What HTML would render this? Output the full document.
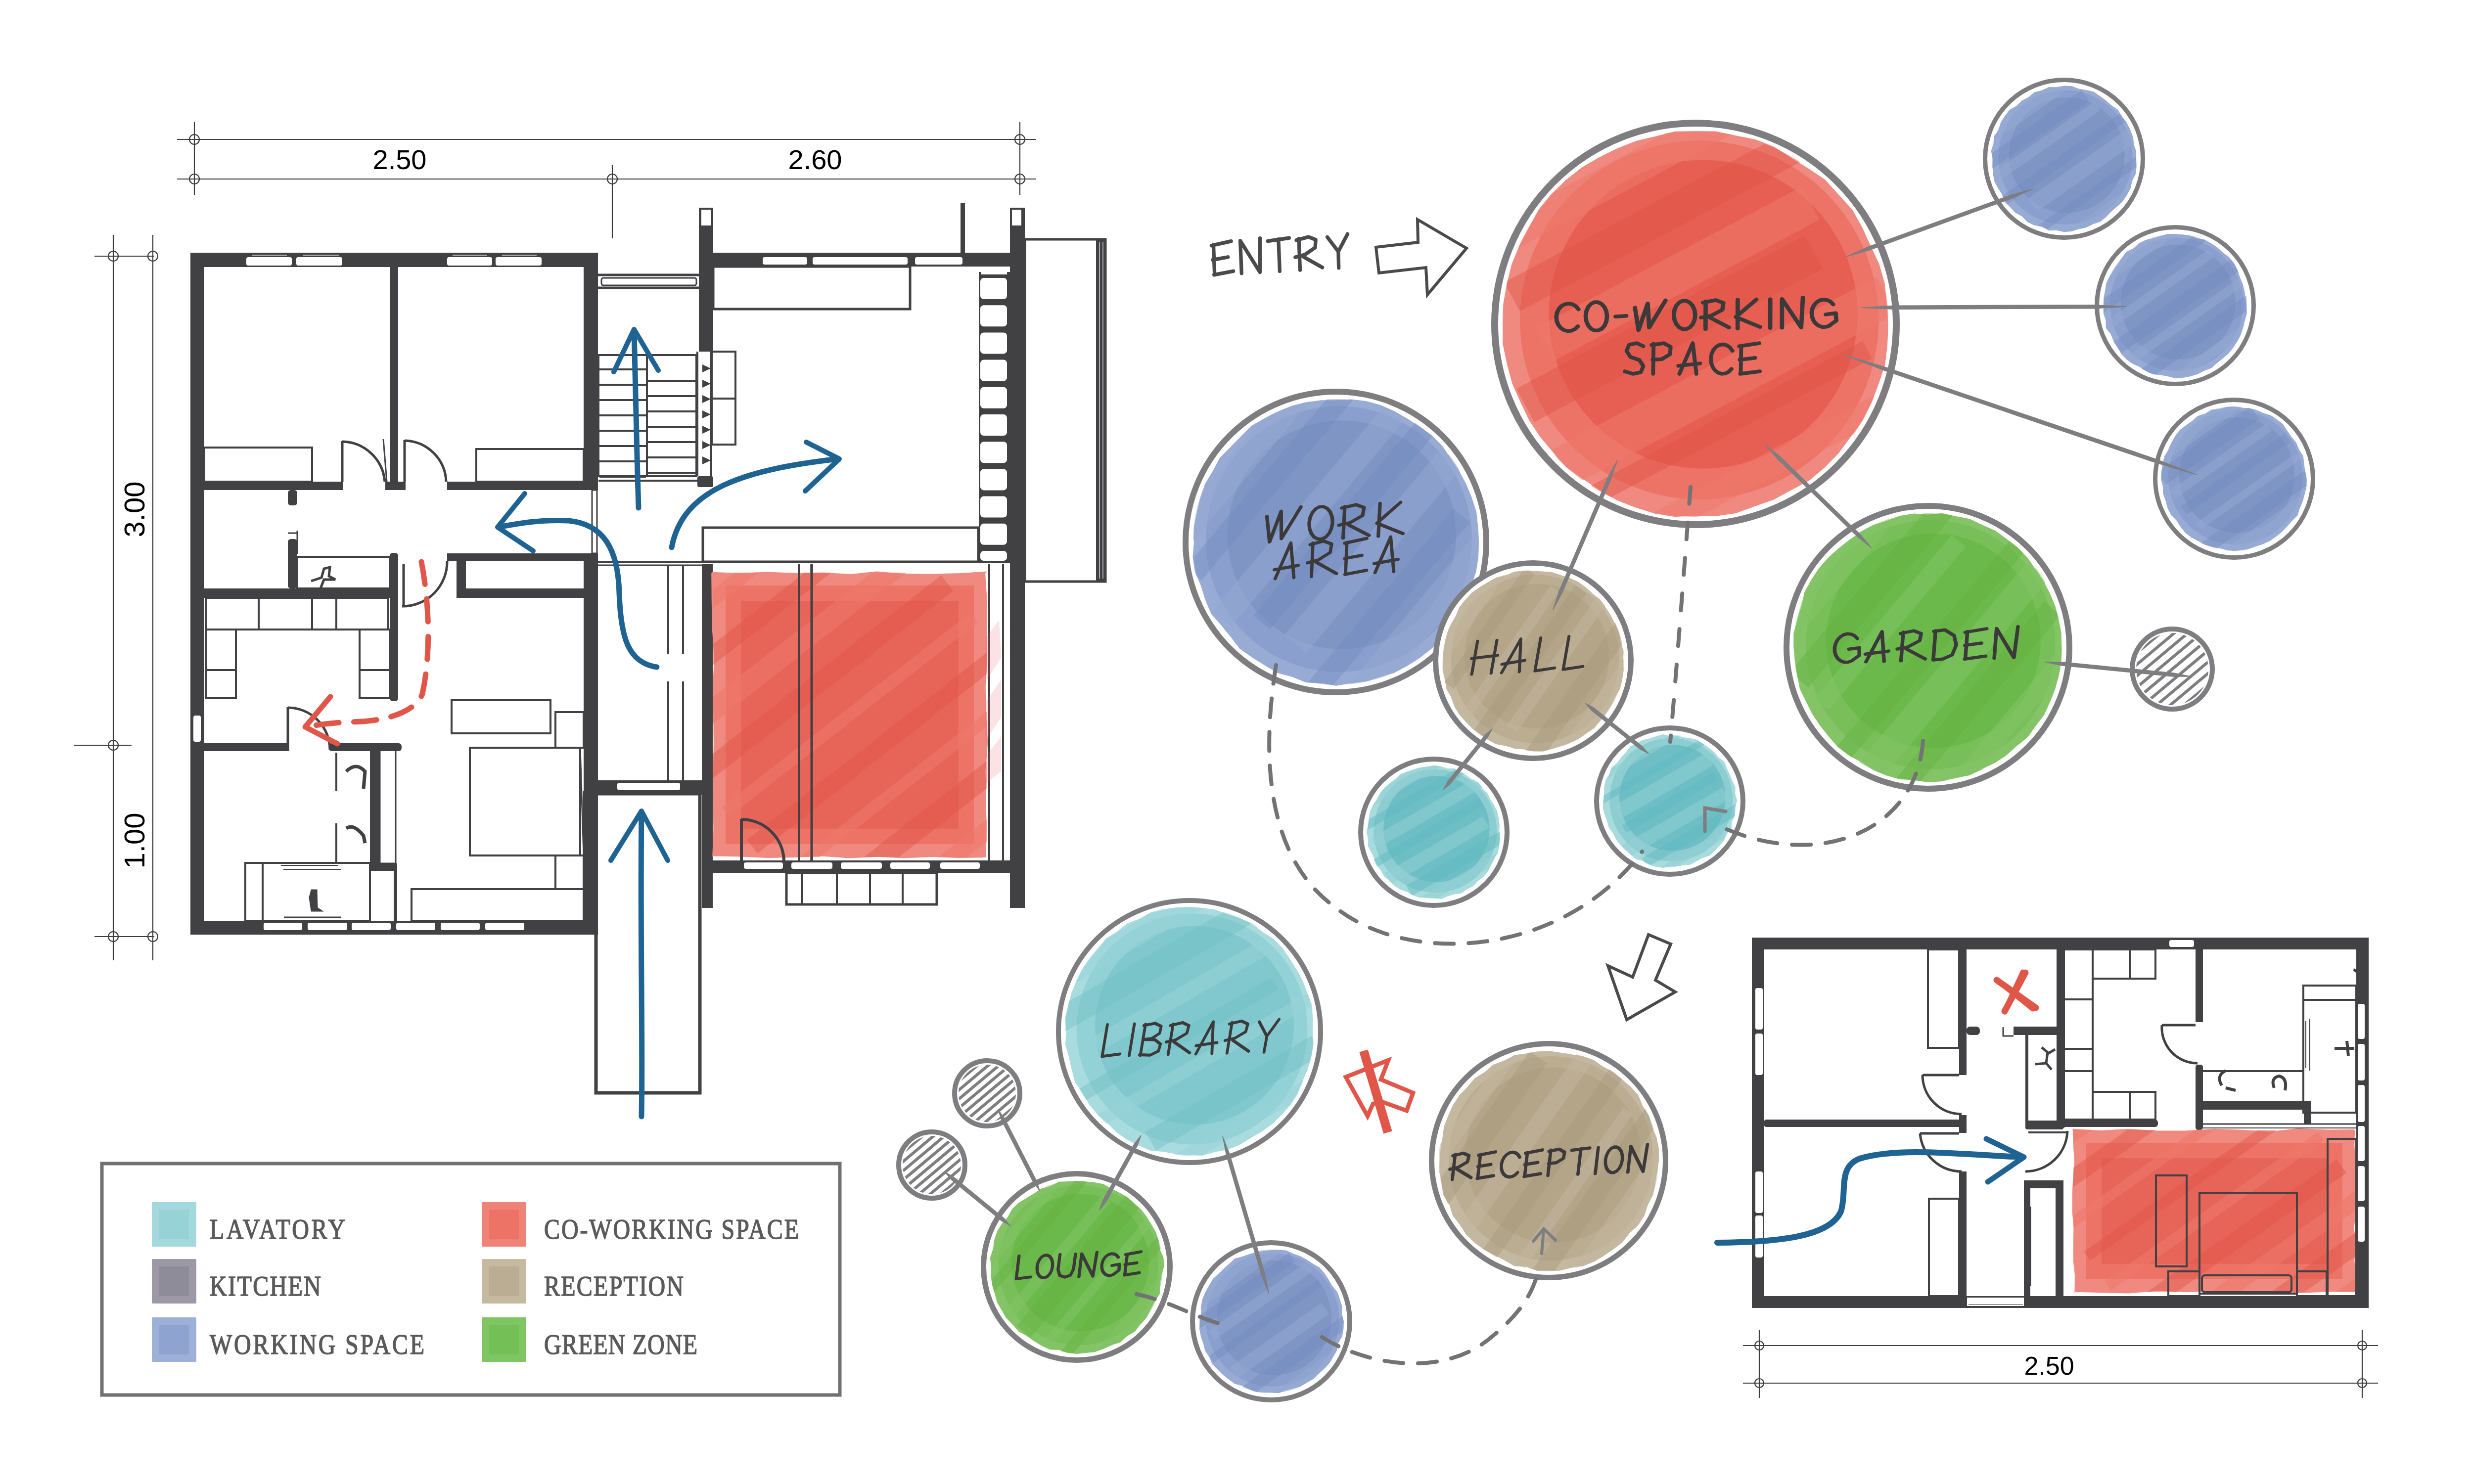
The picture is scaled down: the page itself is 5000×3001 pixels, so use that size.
<!DOCTYPE html><html><head><meta charset="utf-8"><style>html,body{margin:0;padding:0;background:#fff}svg{display:block}</style></head><body><svg width="5000" height="3001" viewBox="0 0 5000 3001"><line x1="358.0" y1="282.0" x2="2095.0" y2="282.0" stroke="#3c3c3c" stroke-width="2.2" /><line x1="358.0" y1="362.0" x2="2095.0" y2="362.0" stroke="#3c3c3c" stroke-width="2.2" /><line x1="393.0" y1="247.0" x2="393.0" y2="394.0" stroke="#3c3c3c" stroke-width="2.2" /><line x1="1238.0" y1="334.0" x2="1238.0" y2="482.0" stroke="#3c3c3c" stroke-width="2.2" /><line x1="2062.0" y1="247.0" x2="2062.0" y2="394.0" stroke="#3c3c3c" stroke-width="2.2" /><circle cx="393" cy="282" r="10" fill="none" stroke="#3c3c3c" stroke-width="2.2"/><circle cx="393" cy="362" r="10" fill="none" stroke="#3c3c3c" stroke-width="2.2"/><circle cx="1238" cy="362" r="10" fill="none" stroke="#3c3c3c" stroke-width="2.2"/><circle cx="2062" cy="282" r="10" fill="none" stroke="#3c3c3c" stroke-width="2.2"/><circle cx="2062" cy="362" r="10" fill="none" stroke="#3c3c3c" stroke-width="2.2"/><text x="808" y="342" font-family="Liberation Sans" font-size="56" text-anchor="middle" fill="#000">2.50</text><text x="1648" y="342" font-family="Liberation Sans" font-size="56" text-anchor="middle" fill="#000">2.60</text><line x1="229.0" y1="475.0" x2="229.0" y2="1942.0" stroke="#3c3c3c" stroke-width="2.2" /><line x1="309.0" y1="475.0" x2="309.0" y2="1942.0" stroke="#3c3c3c" stroke-width="2.2" /><line x1="191.0" y1="518.0" x2="312.0" y2="518.0" stroke="#3c3c3c" stroke-width="2.2" /><line x1="150.0" y1="1507.0" x2="266.0" y2="1507.0" stroke="#3c3c3c" stroke-width="2.2" /><line x1="191.0" y1="1894.0" x2="312.0" y2="1894.0" stroke="#3c3c3c" stroke-width="2.2" /><circle cx="229" cy="518" r="10" fill="none" stroke="#3c3c3c" stroke-width="2.2"/><circle cx="309" cy="518" r="10" fill="none" stroke="#3c3c3c" stroke-width="2.2"/><circle cx="229" cy="1507" r="10" fill="none" stroke="#3c3c3c" stroke-width="2.2"/><circle cx="229" cy="1894" r="10" fill="none" stroke="#3c3c3c" stroke-width="2.2"/><circle cx="309" cy="1894" r="10" fill="none" stroke="#3c3c3c" stroke-width="2.2"/><text transform="translate(292,1030) rotate(-90)" font-family="Liberation Sans" font-size="58" text-anchor="middle" fill="#000">3.00</text><text transform="translate(292,1700) rotate(-90)" font-family="Liberation Sans" font-size="58" text-anchor="middle" fill="#000">1.00</text><line x1="3524.0" y1="2721.0" x2="4808.0" y2="2721.0" stroke="#3c3c3c" stroke-width="2.2" /><line x1="3524.0" y1="2797.0" x2="4808.0" y2="2797.0" stroke="#3c3c3c" stroke-width="2.2" /><line x1="3557.0" y1="2689.0" x2="3557.0" y2="2827.0" stroke="#3c3c3c" stroke-width="2.2" /><line x1="4776.0" y1="2689.0" x2="4776.0" y2="2827.0" stroke="#3c3c3c" stroke-width="2.2" /><circle cx="3557" cy="2721" r="9" fill="none" stroke="#3c3c3c" stroke-width="2.2"/><circle cx="3557" cy="2797" r="9" fill="none" stroke="#3c3c3c" stroke-width="2.2"/><circle cx="4776" cy="2721" r="9" fill="none" stroke="#3c3c3c" stroke-width="2.2"/><circle cx="4776" cy="2797" r="9" fill="none" stroke="#3c3c3c" stroke-width="2.2"/><text x="4143" y="2780" font-family="Liberation Sans" font-size="52" text-anchor="middle" fill="#000">2.50</text><rect x="385.0" y="511.0" width="824.0" height="29.0" fill="#414042" /><rect x="385.0" y="511.0" width="28.0" height="1379.0" fill="#414042" /><rect x="1180.0" y="511.0" width="29.0" height="480.0" fill="#414042" /><rect x="1180.0" y="1119.0" width="29.0" height="771.0" fill="#414042" /><rect x="385.0" y="1862.0" width="824.0" height="28.0" fill="#414042" /><rect x="498.0" y="520.0" width="92.0" height="17.0" fill="#ffffff" rx="4" /><rect x="599.0" y="520.0" width="93.0" height="17.0" fill="#ffffff" rx="4" /><rect x="904.0" y="520.0" width="91.0" height="17.0" fill="#ffffff" rx="4" /><rect x="1002.0" y="520.0" width="93.0" height="17.0" fill="#ffffff" rx="4" /><line x1="510.0" y1="516.0" x2="580.0" y2="516.0" stroke="#bbbbbb" stroke-width="2" /><line x1="612.0" y1="516.0" x2="685.0" y2="516.0" stroke="#bbbbbb" stroke-width="2" /><line x1="915.0" y1="516.0" x2="985.0" y2="516.0" stroke="#bbbbbb" stroke-width="2" /><line x1="1015.0" y1="516.0" x2="1085.0" y2="516.0" stroke="#bbbbbb" stroke-width="2" /><rect x="533.0" y="1866.0" width="78.0" height="15.0" fill="#ffffff" rx="4" /><rect x="622.0" y="1866.0" width="80.0" height="15.0" fill="#ffffff" rx="4" /><rect x="711.0" y="1866.0" width="79.0" height="15.0" fill="#ffffff" rx="4" /><rect x="801.0" y="1866.0" width="79.0" height="15.0" fill="#ffffff" rx="4" /><rect x="891.0" y="1866.0" width="79.0" height="15.0" fill="#ffffff" rx="4" /><rect x="981.0" y="1866.0" width="79.0" height="15.0" fill="#ffffff" rx="4" /><rect x="788.0" y="540.0" width="17.0" height="451.0" fill="#414042" /><rect x="413.0" y="974.0" width="280.0" height="17.0" fill="#414042" /><rect x="904.0" y="974.0" width="276.0" height="17.0" fill="#414042" /><rect x="779.0" y="974.0" width="41.0" height="17.0" fill="#414042" /><rect x="582.0" y="991.0" width="19.0" height="31.0" fill="#414042" rx="6" /><rect x="413.0" y="1190.0" width="392.0" height="19.0" fill="#414042" /><rect x="582.0" y="1090.0" width="19.0" height="100.0" fill="#414042" rx="6" /><line x1="601.0" y1="1126.0" x2="788.0" y2="1126.0" stroke="#414042" stroke-width="4" /><rect x="788.0" y="1118.0" width="17.0" height="300.0" fill="#414042" rx="6" /><rect x="904.0" y="1119.0" width="276.0" height="16.0" fill="#414042" /><rect x="923.0" y="1119.0" width="19.0" height="90.0" fill="#414042" /><rect x="923.0" y="1190.0" width="257.0" height="19.0" fill="#414042" /><rect x="413.0" y="1503.0" width="167.0" height="16.0" fill="#414042" /><rect x="665.0" y="1503.0" width="147.0" height="16.0" fill="#414042" rx="6" /><rect x="748.0" y="1519.0" width="20.0" height="242.0" fill="#414042" /><rect x="748.0" y="1746.0" width="55.0" height="15.0" fill="#414042" /><rect x="796.0" y="1761.0" width="7.0" height="101.0" fill="#414042" /><rect x="413.0" y="905.0" width="218.0" height="69.0" fill="none" stroke="#414042" stroke-width="4"/><rect x="963.0" y="908.0" width="217.0" height="66.0" fill="none" stroke="#414042" stroke-width="4"/><line x1="692.0" y1="892.0" x2="692.0" y2="974.0" stroke="#414042" stroke-width="5" /><path d="M692,893 A88,88 0 0 1 778,974" fill="none" stroke="#414042" stroke-width="5" /><line x1="818.0" y1="890.0" x2="818.0" y2="974.0" stroke="#414042" stroke-width="5" /><path d="M818,891 A86,86 0 0 1 902,974" fill="none" stroke="#414042" stroke-width="5" /><line x1="775.0" y1="888.0" x2="782.0" y2="974.0" stroke="#414042" stroke-width="3" /><rect x="601.0" y="1126.0" width="187.0" height="64.0" fill="none" stroke="#414042" stroke-width="4"/><path d="M629,1175 L650,1168 L655,1150 L667,1147 L665,1165 L678,1172 L655,1172 L648,1190" fill="none" stroke="#414042" stroke-width="5" /><line x1="582.0" y1="1078.0" x2="601.0" y2="1078.0" stroke="#414042" stroke-width="3" /><line x1="601.0" y1="1073.0" x2="601.0" y2="1120.0" stroke="#414042" stroke-width="3" /><line x1="816.0" y1="1140.0" x2="816.0" y2="1226.0" stroke="#414042" stroke-width="5" /><path d="M813,1226 A90,90 0 0 0 904,1135" fill="none" stroke="#414042" stroke-width="5" /><rect x="416.0" y="1209.0" width="369.0" height="64.0" fill="none" stroke="#414042" stroke-width="4"/><line x1="523.0" y1="1209.0" x2="523.0" y2="1273.0" stroke="#414042" stroke-width="4" /><line x1="631.0" y1="1209.0" x2="631.0" y2="1273.0" stroke="#414042" stroke-width="4" /><line x1="680.0" y1="1209.0" x2="680.0" y2="1273.0" stroke="#414042" stroke-width="4" /><rect x="416.0" y="1273.0" width="61.0" height="139.0" fill="none" stroke="#414042" stroke-width="4"/><line x1="416.0" y1="1355.0" x2="477.0" y2="1355.0" stroke="#414042" stroke-width="4" /><rect x="727.0" y="1273.0" width="61.0" height="139.0" fill="none" stroke="#414042" stroke-width="4"/><line x1="727.0" y1="1355.0" x2="788.0" y2="1355.0" stroke="#414042" stroke-width="4" /><line x1="582.0" y1="1430.0" x2="582.0" y2="1519.0" stroke="#414042" stroke-width="5" /><path d="M582,1431 A85,85 0 0 1 667,1516" fill="none" stroke="#414042" stroke-width="5" /><rect x="391.0" y="1447.0" width="15.0" height="53.0" fill="#ffffff" rx="4" /><rect x="913.0" y="1416.0" width="200.0" height="67.0" fill="none" stroke="#414042" stroke-width="4"/><rect x="950.0" y="1512.0" width="223.0" height="218.0" fill="none" stroke="#414042" stroke-width="4"/><rect x="1123.0" y="1440.0" width="57.0" height="72.0" fill="none" stroke="#414042" stroke-width="4"/><rect x="1123.0" y="1730.0" width="57.0" height="68.0" fill="none" stroke="#414042" stroke-width="4"/><rect x="832.0" y="1798.0" width="348.0" height="64.0" fill="none" stroke="#414042" stroke-width="4"/><line x1="1173.0" y1="1512.0" x2="1180.0" y2="1730.0" stroke="#414042" stroke-width="3" /><rect x="496.0" y="1745.0" width="35.0" height="117.0" fill="none" stroke="#414042" stroke-width="4"/><rect x="531.0" y="1745.0" width="217.0" height="117.0" fill="none" stroke="#414042" stroke-width="4"/><line x1="568.0" y1="1750.0" x2="684.0" y2="1750.0" stroke="#414042" stroke-width="2" /><line x1="573.0" y1="1758.0" x2="690.0" y2="1758.0" stroke="#414042" stroke-width="2" /><line x1="574.0" y1="1855.0" x2="690.0" y2="1855.0" stroke="#414042" stroke-width="3" /><path d="M626,1815 L630,1800 L640,1800 L641,1836 L650,1842 L630,1842 Z" fill="#414042" stroke="#414042" stroke-width="3" /><line x1="680.0" y1="1522.0" x2="680.0" y2="1600.0" stroke="#414042" stroke-width="4" /><line x1="680.0" y1="1665.0" x2="680.0" y2="1745.0" stroke="#414042" stroke-width="4" /><rect x="768.0" y="1517.0" width="32.0" height="229.0" fill="none" stroke="#414042" stroke-width="3"/><path d="M700,1560 Q720,1540 738,1560 L735,1595" fill="none" stroke="#414042" stroke-width="7" /><path d="M700,1675 Q715,1665 735,1690 L738,1705" fill="none" stroke="#414042" stroke-width="7" /><rect x="1413.0" y="420.0" width="29.0" height="291.0" fill="#414042" /><rect x="1418.0" y="424.0" width="20.0" height="32.0" fill="#ffffff" /><line x1="1410.0" y1="711.0" x2="1410.0" y2="963.0" stroke="#414042" stroke-width="4" /><line x1="1438.0" y1="711.0" x2="1438.0" y2="963.0" stroke="#414042" stroke-width="4" /><rect x="1442.0" y="511.0" width="600.0" height="28.0" fill="#414042" /><rect x="1542.0" y="520.0" width="90.0" height="15.0" fill="#ffffff" rx="4" /><rect x="1643.0" y="520.0" width="192.0" height="15.0" fill="#ffffff" rx="4" /><rect x="1850.0" y="520.0" width="96.0" height="15.0" fill="#ffffff" rx="4" /><rect x="2042.0" y="420.0" width="30.0" height="1416.0" fill="#414042" /><rect x="2046.0" y="424.0" width="19.0" height="32.0" fill="#ffffff" /><rect x="1942.0" y="411.0" width="9.0" height="100.0" fill="#414042" /><line x1="1209.0" y1="556.0" x2="1413.0" y2="556.0" stroke="#414042" stroke-width="5" /><line x1="1209.0" y1="582.0" x2="1413.0" y2="582.0" stroke="#414042" stroke-width="5" /><rect x="1216.0" y="562.0" width="192.0" height="15.0" fill="none" stroke="#414042" stroke-width="3" rx="4"/><rect x="1442.0" y="539.0" width="398.0" height="86.0" fill="none" stroke="#414042" stroke-width="5"/><rect x="1210.0" y="718.0" width="198.0" height="245.0" fill="none" stroke="#414042" stroke-width="4"/><line x1="1308.0" y1="718.0" x2="1308.0" y2="963.0" stroke="#414042" stroke-width="4" /><line x1="1212.0" y1="747.0" x2="1306.0" y2="747.0" stroke="#414042" stroke-width="4" /><line x1="1212.0" y1="778.0" x2="1306.0" y2="778.0" stroke="#414042" stroke-width="4" /><line x1="1212.0" y1="809.0" x2="1306.0" y2="809.0" stroke="#414042" stroke-width="4" /><line x1="1212.0" y1="840.0" x2="1306.0" y2="840.0" stroke="#414042" stroke-width="4" /><line x1="1212.0" y1="871.0" x2="1306.0" y2="871.0" stroke="#414042" stroke-width="4" /><line x1="1212.0" y1="902.0" x2="1306.0" y2="902.0" stroke="#414042" stroke-width="4" /><line x1="1212.0" y1="933.0" x2="1306.0" y2="933.0" stroke="#414042" stroke-width="4" /><line x1="1212.0" y1="964.0" x2="1306.0" y2="964.0" stroke="#414042" stroke-width="4" /><line x1="1310.0" y1="770.0" x2="1406.0" y2="770.0" stroke="#414042" stroke-width="4" /><line x1="1310.0" y1="801.0" x2="1406.0" y2="801.0" stroke="#414042" stroke-width="4" /><line x1="1310.0" y1="832.0" x2="1406.0" y2="832.0" stroke="#414042" stroke-width="4" /><line x1="1310.0" y1="863.0" x2="1406.0" y2="863.0" stroke="#414042" stroke-width="4" /><line x1="1310.0" y1="894.0" x2="1406.0" y2="894.0" stroke="#414042" stroke-width="4" /><line x1="1310.0" y1="925.0" x2="1406.0" y2="925.0" stroke="#414042" stroke-width="4" /><line x1="1310.0" y1="956.0" x2="1406.0" y2="956.0" stroke="#414042" stroke-width="4" /><line x1="1210.0" y1="972.0" x2="1413.0" y2="972.0" stroke="#414042" stroke-width="4" /><rect x="1439.0" y="711.0" width="48.0" height="188.0" fill="none" stroke="#414042" stroke-width="4"/><line x1="1439.0" y1="806.0" x2="1487.0" y2="806.0" stroke="#414042" stroke-width="4" /><polygon points="1420.0,737.0 1437.0,745.0 1420.0,753.0" fill="#414042"/><polygon points="1420.0,768.0 1437.0,776.0 1420.0,784.0" fill="#414042"/><polygon points="1420.0,799.0 1437.0,807.0 1420.0,815.0" fill="#414042"/><polygon points="1420.0,830.0 1437.0,838.0 1420.0,846.0" fill="#414042"/><polygon points="1420.0,861.0 1437.0,869.0 1420.0,877.0" fill="#414042"/><polygon points="1420.0,892.0 1437.0,900.0 1420.0,908.0" fill="#414042"/><polygon points="1420.0,923.0 1437.0,931.0 1420.0,939.0" fill="#414042"/><rect x="1410.0" y="963.0" width="32.0" height="22.0" fill="#414042" rx="4" /><rect x="1979.0" y="550.0" width="63.0" height="588.0" fill="#414042" /><rect x="1982.0" y="562.0" width="54.0" height="43.0" fill="#ffffff" rx="7" /><rect x="1982.0" y="617.2" width="54.0" height="43.0" fill="#ffffff" rx="7" /><rect x="1982.0" y="672.4" width="54.0" height="43.0" fill="#ffffff" rx="7" /><rect x="1982.0" y="727.6" width="54.0" height="43.0" fill="#ffffff" rx="7" /><rect x="1982.0" y="782.8" width="54.0" height="43.0" fill="#ffffff" rx="7" /><rect x="1982.0" y="838.0" width="54.0" height="43.0" fill="#ffffff" rx="7" /><rect x="1982.0" y="893.2" width="54.0" height="43.0" fill="#ffffff" rx="7" /><rect x="1982.0" y="948.4" width="54.0" height="43.0" fill="#ffffff" rx="7" /><rect x="1982.0" y="1003.6" width="54.0" height="43.0" fill="#ffffff" rx="7" /><rect x="1982.0" y="1058.8" width="54.0" height="43.0" fill="#ffffff" rx="7" /><rect x="1982.0" y="1114.0" width="54.0" height="20.0" fill="#ffffff" rx="7" /><rect x="1984.0" y="550.0" width="52.0" height="5.0" fill="#ffffff" /><rect x="1421.0" y="1067.0" width="557.0" height="69.0" fill="none" stroke="#414042" stroke-width="5"/><line x1="1209.0" y1="1137.0" x2="2042.0" y2="1137.0" stroke="#414042" stroke-width="4" /><line x1="1209.0" y1="1143.0" x2="1419.0" y2="1143.0" stroke="#414042" stroke-width="3" /><rect x="1197.0" y="991.0" width="10.0" height="128.0" fill="none" stroke="#414042" stroke-width="3"/><rect x="1419.0" y="1140.0" width="22.0" height="696.0" fill="#414042" /><line x1="1351.0" y1="1143.0" x2="1351.0" y2="1322.0" stroke="#414042" stroke-width="4" /><line x1="1381.0" y1="1143.0" x2="1381.0" y2="1322.0" stroke="#414042" stroke-width="4" /><line x1="1351.0" y1="1378.0" x2="1351.0" y2="1578.0" stroke="#414042" stroke-width="4" /><line x1="1381.0" y1="1378.0" x2="1381.0" y2="1578.0" stroke="#414042" stroke-width="4" /><rect x="1209.0" y="1578.0" width="210.0" height="29.0" fill="#414042" /><rect x="1248.0" y="1583.0" width="127.0" height="15.0" fill="#ffffff" rx="4" /><rect x="1205.0" y="1605.0" width="210.0" height="605.0" fill="none" stroke="#414042" stroke-width="7"/><rect x="1179.0" y="1600.0" width="30.0" height="289.0" fill="#414042" /><rect x="2072.0" y="484.0" width="163.0" height="692.0" fill="none" stroke="#414042" stroke-width="5"/><rect x="2216.0" y="484.0" width="21.0" height="694.0" fill="#414042" /><line x1="2223.0" y1="490.0" x2="2223.0" y2="1170.0" stroke="#cfcfcf" stroke-width="1.5" /><line x1="2230.0" y1="490.0" x2="2230.0" y2="1170.0" stroke="#cfcfcf" stroke-width="1.5" /><line x1="1615.0" y1="1140.0" x2="1615.0" y2="1740.0" stroke="#414042" stroke-width="4" /><line x1="1641.0" y1="1140.0" x2="1641.0" y2="1740.0" stroke="#414042" stroke-width="5" /><line x1="2000.0" y1="1140.0" x2="2000.0" y2="1740.0" stroke="#414042" stroke-width="4" /><line x1="2028.0" y1="1140.0" x2="2028.0" y2="1740.0" stroke="#414042" stroke-width="4" /><rect x="1441.0" y="1740.0" width="601.0" height="25.0" fill="#414042" /><rect x="1504.0" y="1744.0" width="79.0" height="13.0" fill="#ffffff" rx="4" /><rect x="1600.0" y="1744.0" width="83.0" height="13.0" fill="#ffffff" rx="4" /><rect x="1700.0" y="1744.0" width="83.0" height="13.0" fill="#ffffff" rx="4" /><rect x="1800.0" y="1744.0" width="80.0" height="13.0" fill="#ffffff" rx="4" /><rect x="1901.0" y="1744.0" width="80.0" height="13.0" fill="#ffffff" rx="4" /><rect x="1590.0" y="1765.0" width="304.0" height="64.0" fill="none" stroke="#414042" stroke-width="5"/><line x1="1622.0" y1="1765.0" x2="1622.0" y2="1829.0" stroke="#414042" stroke-width="4" /><line x1="1692.0" y1="1765.0" x2="1692.0" y2="1829.0" stroke="#414042" stroke-width="4" /><line x1="1759.0" y1="1765.0" x2="1759.0" y2="1829.0" stroke="#414042" stroke-width="4" /><line x1="1825.0" y1="1765.0" x2="1825.0" y2="1829.0" stroke="#414042" stroke-width="4" /><line x1="1499.0" y1="1656.0" x2="1499.0" y2="1740.0" stroke="#414042" stroke-width="6" /><path d="M1499,1657 A86,86 0 0 1 1585,1740" fill="none" stroke="#414042" stroke-width="6" /><clipPath id="c1"><circle cx="3428" cy="655" r="390"/></clipPath><circle cx="3428" cy="655" r="399.0" fill="#ffffff"/><path d="M3817.8,655.0 L3816.2,695.8 L3811.6,736.5 L3798.7,775.5 L3784.3,813.6 L3766.1,850.2 L3742.2,883.3 L3717.9,916.0 L3689.4,945.3 L3658.1,971.7 L3622.0,991.0 L3586.2,1010.4 L3547.9,1024.0 L3509.4,1038.0 L3468.9,1043.8 L3428.0,1042.7 L3387.0,1045.3 L3346.4,1038.8 L3307.2,1026.6 L3269.1,1011.8 L3233.9,991.3 L3200.2,968.6 L3166.9,944.9 L3139.8,914.5 L3113.7,883.3 L3091.4,849.4 L3073.9,812.7 L3057.3,775.5 L3046.8,736.0 L3038.4,695.9 L3037.9,655.0 L3039.4,614.2 L3046.5,573.9 L3056.3,534.2 L3071.9,496.5 L3091.2,460.6 L3110.5,424.3 L3136.3,392.4 L3165.9,363.9 L3198.2,338.6 L3233.5,318.0 L3269.9,300.0 L3307.8,285.1 L3347.4,275.6 L3387.1,265.8 L3428.0,265.5 L3468.9,265.4 L3509.0,274.1 L3549.2,281.9 L3587.3,297.1 L3621.8,319.4 L3656.4,340.7 L3690.3,363.6 L3717.7,394.1 L3745.5,424.4 L3765.3,460.3 L3782.3,497.2 L3799.5,534.3 L3810.8,573.6 L3814.7,614.4Z" fill="#f08a80"/><circle cx="3435.8" cy="647.2" r="362.7" fill="#ec7366"/><circle cx="3443.6" cy="635.5" r="312.0" fill="#e65f52"/><g clip-path="url(#c1)" transform="rotate(-28 3428 655)"><rect x="3010.8" y="286.3" width="762.8" height="65.2" fill="#ee786b" opacity="0.55"/><rect x="3126.2" y="399.2" width="654.7" height="66.5" fill="#df5547" opacity="0.45"/><rect x="3140.3" y="510.6" width="608.0" height="76.1" fill="#ee786b" opacity="0.55"/><rect x="3046.8" y="600.6" width="660.7" height="76.9" fill="#df5547" opacity="0.45"/><rect x="3053.0" y="743.2" width="744.0" height="84.2" fill="#ee786b" opacity="0.55"/><rect x="3072.6" y="844.6" width="637.7" height="39.7" fill="#df5547" opacity="0.45"/><rect x="3150.3" y="952.0" width="623.1" height="50.3" fill="#ee786b" opacity="0.55"/></g><circle cx="3428" cy="655" r="406.0" fill="none" stroke="#7e7e80" stroke-width="14"/><clipPath id="c2"><circle cx="2701" cy="1096" r="289"/></clipPath><circle cx="2701" cy="1096" r="298.0" fill="#ffffff"/><path d="M2989.9,1096.0 L2989.2,1126.3 L2984.5,1156.3 L2974.2,1184.8 L2962.8,1212.6 L2950.7,1240.2 L2933.9,1265.2 L2916.9,1290.4 L2895.0,1311.5 L2871.2,1330.2 L2845.6,1346.5 L2818.9,1360.8 L2789.8,1369.2 L2761.0,1378.4 L2731.0,1381.7 L2701.0,1387.0 L2671.0,1381.2 L2640.6,1380.2 L2612.4,1368.8 L2583.1,1360.9 L2556.9,1345.6 L2531.4,1329.4 L2506.5,1312.0 L2488.0,1287.8 L2469.0,1264.6 L2448.9,1241.5 L2436.9,1213.6 L2428.1,1184.7 L2415.9,1156.6 L2411.4,1126.4 L2413.9,1096.0 L2414.0,1065.8 L2420.1,1036.3 L2427.0,1007.0 L2436.4,978.2 L2452.2,952.3 L2466.4,925.6 L2487.9,904.1 L2508.7,882.5 L2530.2,860.9 L2556.7,846.1 L2583.6,832.4 L2611.5,820.7 L2640.9,813.4 L2670.9,809.2 L2701.0,809.3 L2731.3,807.5 L2761.6,811.0 L2791.0,818.9 L2818.9,831.2 L2845.1,846.3 L2870.5,862.7 L2895.0,880.5 L2916.4,902.0 L2933.2,927.3 L2950.1,952.2 L2964.4,978.7 L2975.9,1006.7 L2985.2,1035.6 L2988.4,1065.8Z" fill="#98abd5"/><circle cx="2706.8" cy="1090.2" r="268.8" fill="#8a9fcd"/><circle cx="2712.6" cy="1081.5" r="231.2" fill="#7f96c5"/><g clip-path="url(#c2)" transform="rotate(-50 2701 1096)"><rect x="2421.7" y="821.7" width="498.1" height="51.7" fill="#93a7d2" opacity="0.55"/><rect x="2467.0" y="895.8" width="530.0" height="41.9" fill="#738cbf" opacity="0.45"/><rect x="2434.2" y="994.1" width="545.6" height="49.8" fill="#93a7d2" opacity="0.55"/><rect x="2479.9" y="1063.7" width="528.1" height="44.2" fill="#738cbf" opacity="0.45"/><rect x="2490.1" y="1137.2" width="492.6" height="57.3" fill="#93a7d2" opacity="0.55"/><rect x="2401.3" y="1235.0" width="504.1" height="42.9" fill="#738cbf" opacity="0.45"/><rect x="2439.9" y="1300.7" width="473.9" height="60.6" fill="#93a7d2" opacity="0.55"/></g><circle cx="2701" cy="1096" r="304.0" fill="none" stroke="#7e7e80" stroke-width="12"/><clipPath id="c3"><circle cx="3100" cy="1336" r="183"/></clipPath><circle cx="3100" cy="1336" r="192.0" fill="#ffffff"/><path d="M3281.8,1336.0 L3282.9,1355.2 L3279.9,1374.2 L3275.7,1393.1 L3265.7,1409.8 L3257.3,1426.8 L3246.6,1442.5 L3235.0,1457.5 L3223.2,1472.9 L3206.5,1482.6 L3191.6,1494.6 L3173.9,1501.9 L3156.2,1509.1 L3138.0,1514.7 L3119.3,1519.7 L3100.0,1519.5 L3081.1,1515.6 L3062.2,1513.9 L3044.0,1508.4 L3024.8,1504.9 L3007.7,1495.8 L2991.5,1485.3 L2976.5,1473.2 L2963.1,1459.3 L2950.1,1444.9 L2940.2,1428.2 L2933.9,1409.9 L2924.3,1393.1 L2921.1,1374.0 L2916.7,1355.3 L2916.7,1336.0 L2918.4,1316.9 L2921.7,1298.1 L2926.3,1279.6 L2933.7,1261.9 L2943.2,1245.5 L2950.7,1227.5 L2962.9,1212.6 L2975.9,1198.2 L2991.9,1187.2 L3008.4,1177.3 L3025.1,1167.7 L3044.0,1163.7 L3061.8,1156.1 L3080.9,1154.3 L3100.0,1154.6 L3119.0,1155.5 L3138.1,1156.9 L3156.2,1163.1 L3174.4,1169.0 L3191.8,1177.1 L3207.3,1188.4 L3221.2,1201.4 L3236.0,1213.6 L3247.0,1229.2 L3257.3,1245.2 L3265.8,1262.2 L3273.4,1279.7 L3276.9,1298.4 L3282.7,1316.8Z" fill="#c4b8a0"/><circle cx="3103.7" cy="1332.3" r="170.2" fill="#baad92"/><circle cx="3107.3" cy="1326.8" r="146.4" fill="#b4a588"/><g clip-path="url(#c3)" transform="rotate(-55 3100 1336)"><rect x="2921.8" y="1158.1" width="368.4" height="33.3" fill="#c3b79f" opacity="0.55"/><rect x="2961.1" y="1214.0" width="283.5" height="23.4" fill="#a99a7d" opacity="0.45"/><rect x="2933.0" y="1277.4" width="310.8" height="21.2" fill="#c3b79f" opacity="0.55"/><rect x="2910.6" y="1318.4" width="362.1" height="27.8" fill="#a99a7d" opacity="0.45"/><rect x="2961.2" y="1367.2" width="330.7" height="24.4" fill="#c3b79f" opacity="0.55"/><rect x="2911.4" y="1428.2" width="371.2" height="36.0" fill="#a99a7d" opacity="0.45"/><rect x="2953.1" y="1483.2" width="337.2" height="35.7" fill="#c3b79f" opacity="0.55"/></g><circle cx="3100" cy="1336" r="197.5" fill="none" stroke="#7e7e80" stroke-width="11"/><clipPath id="c4"><circle cx="2899" cy="1683" r="134"/></clipPath><circle cx="2899" cy="1683" r="143.0" fill="#ffffff"/><path d="M3031.0,1683.0 L3033.3,1697.1 L3030.8,1711.0 L3028.5,1725.1 L3020.4,1737.0 L3014.0,1749.4 L3008.4,1762.5 L2999.2,1773.2 L2988.0,1781.8 L2978.3,1792.2 L2965.7,1798.6 L2954.1,1806.7 L2939.8,1808.6 L2926.6,1812.7 L2913.2,1818.3 L2899.0,1816.3 L2885.1,1815.1 L2870.8,1815.6 L2857.4,1811.1 L2845.2,1803.8 L2831.9,1799.3 L2819.8,1792.1 L2810.5,1781.3 L2798.9,1773.2 L2792.1,1760.7 L2783.7,1749.6 L2778.5,1736.7 L2773.0,1724.0 L2765.6,1711.4 L2766.2,1697.0 L2762.5,1683.0 L2766.0,1669.0 L2767.4,1655.0 L2769.8,1641.0 L2775.7,1628.1 L2784.6,1617.0 L2790.2,1604.0 L2798.9,1592.9 L2810.4,1584.6 L2821.4,1576.2 L2831.1,1565.3 L2844.5,1560.5 L2858.1,1557.0 L2871.2,1552.2 L2885.1,1551.1 L2899.0,1547.5 L2913.0,1549.7 L2926.4,1553.9 L2940.9,1554.0 L2952.7,1562.5 L2965.5,1567.9 L2976.4,1576.5 L2989.5,1582.5 L2997.1,1594.6 L3007.5,1604.2 L3013.3,1617.0 L3021.3,1628.5 L3027.3,1641.3 L3030.2,1655.1 L3032.0,1669.0Z" fill="#a8dbde"/><circle cx="2901.7" cy="1680.3" r="124.6" fill="#8ccdd1"/><circle cx="2904.4" cy="1676.3" r="107.2" fill="#6dbfc5"/><g clip-path="url(#c4)" transform="rotate(-30 2899 1683)"><rect x="2770.3" y="1550.5" width="273.0" height="24.7" fill="#92d0d4" opacity="0.55"/><rect x="2765.9" y="1594.6" width="262.2" height="17.5" fill="#5eb7be" opacity="0.45"/><rect x="2783.9" y="1629.9" width="250.5" height="24.4" fill="#92d0d4" opacity="0.55"/><rect x="2756.9" y="1669.4" width="255.1" height="17.0" fill="#5eb7be" opacity="0.45"/><rect x="2771.3" y="1704.9" width="229.5" height="26.3" fill="#92d0d4" opacity="0.55"/><rect x="2796.4" y="1748.2" width="231.4" height="24.1" fill="#5eb7be" opacity="0.45"/><rect x="2800.7" y="1783.4" width="203.0" height="18.8" fill="#92d0d4" opacity="0.55"/></g><circle cx="2899" cy="1683" r="148.0" fill="none" stroke="#7e7e80" stroke-width="10"/><clipPath id="c5"><circle cx="3376" cy="1620" r="134"/></clipPath><circle cx="3376" cy="1620" r="143.0" fill="#ffffff"/><path d="M3512.3,1620.0 L3506.8,1633.8 L3508.2,1648.1 L3501.8,1660.9 L3500.6,1675.5 L3490.0,1685.8 L3485.9,1699.9 L3476.3,1710.3 L3466.9,1720.9 L3456.2,1730.4 L3442.3,1734.9 L3430.2,1741.7 L3417.7,1748.4 L3403.6,1750.0 L3389.9,1752.1 L3376.0,1752.6 L3361.8,1755.0 L3347.8,1752.9 L3334.1,1748.9 L3322.1,1741.2 L3307.9,1737.9 L3297.2,1728.5 L3287.2,1718.6 L3276.6,1709.5 L3267.9,1698.5 L3261.8,1685.9 L3253.3,1674.6 L3249.2,1661.2 L3244.6,1647.9 L3240.6,1634.2 L3241.3,1620.0 L3243.2,1606.0 L3243.2,1591.8 L3246.2,1577.8 L3253.6,1565.5 L3258.0,1551.9 L3269.5,1542.7 L3277.8,1531.5 L3287.4,1521.6 L3295.9,1509.8 L3308.5,1503.1 L3321.1,1496.6 L3334.9,1493.6 L3348.1,1489.0 L3361.8,1484.8 L3376.0,1488.0 L3389.8,1488.6 L3403.4,1491.1 L3417.4,1492.7 L3431.2,1496.0 L3443.1,1503.7 L3454.5,1512.0 L3465.7,1520.4 L3474.4,1531.4 L3486.2,1539.9 L3491.4,1553.4 L3497.2,1566.0 L3502.5,1578.9 L3508.7,1591.8 L3508.4,1606.1Z" fill="#a8dbde"/><circle cx="3378.7" cy="1617.3" r="124.6" fill="#8ccdd1"/><circle cx="3381.4" cy="1613.3" r="107.2" fill="#6dbfc5"/><g clip-path="url(#c5)" transform="rotate(-30 3376 1620)"><rect x="3242.8" y="1504.6" width="235.5" height="13.6" fill="#92d0d4" opacity="0.55"/><rect x="3235.1" y="1543.1" width="271.3" height="13.7" fill="#5eb7be" opacity="0.45"/><rect x="3269.4" y="1571.8" width="218.6" height="29.5" fill="#92d0d4" opacity="0.55"/><rect x="3268.1" y="1613.8" width="214.0" height="17.9" fill="#5eb7be" opacity="0.45"/><rect x="3239.4" y="1649.3" width="242.3" height="27.5" fill="#92d0d4" opacity="0.55"/><rect x="3269.8" y="1691.5" width="224.4" height="21.6" fill="#5eb7be" opacity="0.45"/><rect x="3251.9" y="1726.4" width="237.2" height="14.7" fill="#92d0d4" opacity="0.55"/></g><circle cx="3376" cy="1620" r="148.0" fill="none" stroke="#7e7e80" stroke-width="10"/><clipPath id="c6"><circle cx="3898" cy="1309" r="271"/></clipPath><circle cx="3898" cy="1309" r="280.0" fill="#ffffff"/><path d="M4168.3,1309.0 L4167.4,1337.3 L4162.7,1365.3 L4155.5,1392.7 L4145.2,1419.0 L4133.4,1444.9 L4116.3,1467.6 L4099.9,1490.8 L4077.7,1508.6 L4056.7,1527.4 L4033.1,1543.0 L4007.5,1554.9 L3982.1,1567.9 L3954.1,1573.1 L3926.5,1580.0 L3898.0,1582.3 L3869.8,1577.3 L3841.2,1576.0 L3813.8,1568.2 L3787.4,1557.3 L3763.7,1541.6 L3738.8,1528.1 L3716.2,1510.9 L3697.4,1489.7 L3679.9,1467.5 L3664.1,1444.0 L3651.5,1418.7 L3638.9,1393.2 L3633.7,1365.2 L3628.9,1337.3 L3626.3,1309.0 L3626.3,1280.4 L3633.9,1252.9 L3642.4,1226.0 L3648.3,1197.8 L3661.9,1172.7 L3677.6,1148.9 L3696.5,1127.6 L3717.6,1108.6 L3739.7,1091.2 L3763.0,1075.2 L3787.9,1061.6 L3814.9,1053.3 L3841.4,1042.9 L3869.6,1038.4 L3898.0,1040.4 L3926.5,1037.8 L3954.3,1044.0 L3982.4,1049.3 L4008.2,1061.5 L4034.2,1073.0 L4057.2,1089.9 L4079.7,1107.2 L4099.4,1127.7 L4115.3,1151.1 L4131.2,1174.4 L4144.3,1199.3 L4155.3,1225.4 L4162.4,1252.8 L4167.7,1280.7Z" fill="#84c466"/><circle cx="3903.4" cy="1303.6" r="252.0" fill="#78bf59"/><circle cx="3908.8" cy="1295.5" r="216.8" fill="#6cb94b"/><g clip-path="url(#c6)" transform="rotate(-50 3898 1309)"><rect x="3663.1" y="1051.6" width="473.0" height="42.7" fill="#82c464" opacity="0.55"/><rect x="3680.2" y="1127.4" width="476.3" height="48.5" fill="#63b241" opacity="0.45"/><rect x="3672.0" y="1199.8" width="431.1" height="36.9" fill="#82c464" opacity="0.55"/><rect x="3622.7" y="1297.0" width="568.6" height="37.2" fill="#63b241" opacity="0.45"/><rect x="3620.8" y="1351.7" width="539.3" height="56.2" fill="#82c464" opacity="0.55"/><rect x="3640.4" y="1430.1" width="479.5" height="42.0" fill="#63b241" opacity="0.45"/><rect x="3680.3" y="1515.2" width="492.8" height="37.2" fill="#82c464" opacity="0.55"/></g><circle cx="3898" cy="1309" r="286.0" fill="none" stroke="#7e7e80" stroke-width="12"/><clipPath id="c7"><circle cx="4173" cy="321" r="146"/></clipPath><circle cx="4173" cy="321" r="155.0" fill="#ffffff"/><path d="M4319.1,321.0 L4319.7,336.4 L4318.1,351.8 L4310.9,365.8 L4307.6,380.9 L4300.3,394.5 L4291.8,407.3 L4280.1,417.4 L4269.1,427.7 L4258.5,438.6 L4246.6,448.5 L4231.9,453.2 L4218.1,459.9 L4203.2,462.9 L4188.4,467.9 L4173.0,469.2 L4157.8,465.7 L4142.1,466.2 L4128.6,457.8 L4113.0,455.8 L4099.1,449.1 L4088.2,437.7 L4074.6,430.3 L4064.3,418.9 L4053.0,408.2 L4047.8,393.3 L4039.4,380.5 L4032.3,366.7 L4029.5,351.5 L4028.7,336.2 L4029.1,321.0 L4025.6,305.5 L4030.3,290.7 L4031.8,275.1 L4041.3,262.3 L4045.2,247.2 L4053.6,234.3 L4062.9,221.9 L4076.9,214.3 L4087.6,203.4 L4101.1,196.5 L4113.1,186.5 L4128.1,182.8 L4142.2,175.9 L4157.8,176.4 L4173.0,173.6 L4188.5,174.0 L4203.1,179.5 L4218.2,181.9 L4233.3,185.5 L4246.1,194.4 L4258.4,203.5 L4269.9,213.4 L4282.6,222.3 L4289.9,236.1 L4299.9,247.7 L4306.6,261.5 L4312.1,275.8 L4314.0,291.0 L4319.0,305.7Z" fill="#98abd5"/><circle cx="4175.9" cy="318.1" r="135.8" fill="#8a9fcd"/><circle cx="4178.8" cy="313.7" r="116.8" fill="#7f96c5"/><g clip-path="url(#c7)" transform="rotate(-35 4173 321)"><rect x="4014.7" y="181.8" width="277.4" height="28.7" fill="#93a7d2" opacity="0.55"/><rect x="4032.2" y="228.0" width="249.5" height="26.9" fill="#738cbf" opacity="0.45"/><rect x="4027.2" y="261.7" width="262.7" height="21.3" fill="#93a7d2" opacity="0.55"/><rect x="4021.4" y="310.9" width="309.0" height="20.2" fill="#738cbf" opacity="0.45"/><rect x="4067.2" y="345.2" width="255.5" height="32.1" fill="#93a7d2" opacity="0.55"/><rect x="4029.6" y="401.3" width="278.2" height="17.2" fill="#738cbf" opacity="0.45"/><rect x="4039.3" y="443.6" width="287.5" height="18.3" fill="#93a7d2" opacity="0.55"/></g><circle cx="4173" cy="321" r="159.5" fill="none" stroke="#7e7e80" stroke-width="9"/><clipPath id="c8"><circle cx="4398" cy="618" r="145"/></clipPath><circle cx="4398" cy="618" r="154.0" fill="#ffffff"/><path d="M4541.4,618.0 L4543.0,633.2 L4539.0,648.0 L4534.5,662.3 L4530.4,677.0 L4523.5,690.5 L4515.2,703.2 L4505.6,714.9 L4494.2,724.9 L4482.5,734.3 L4471.0,744.4 L4456.6,749.7 L4443.1,756.7 L4428.4,761.2 L4413.3,764.0 L4398.0,765.2 L4383.0,760.9 L4368.1,758.5 L4352.8,757.0 L4338.9,750.8 L4326.2,742.3 L4312.2,736.0 L4299.7,727.1 L4289.0,716.1 L4281.8,702.4 L4273.3,690.0 L4267.8,676.0 L4257.8,663.5 L4257.5,647.9 L4252.7,633.3 L4252.8,618.0 L4253.3,602.8 L4256.0,587.8 L4258.5,572.7 L4265.1,558.8 L4273.3,546.0 L4282.3,533.9 L4290.3,521.1 L4299.6,508.7 L4313.8,502.1 L4325.0,491.6 L4338.8,484.9 L4353.7,481.7 L4368.2,477.6 L4382.7,472.9 L4398.0,473.3 L4413.1,474.3 L4428.1,476.3 L4442.2,482.0 L4457.4,484.6 L4470.7,492.0 L4483.3,500.6 L4494.5,510.8 L4506.9,519.9 L4516.6,531.8 L4523.8,545.4 L4528.6,559.9 L4534.2,573.7 L4538.1,588.2 L4540.1,603.1Z" fill="#98abd5"/><circle cx="4400.9" cy="615.1" r="134.8" fill="#8a9fcd"/><circle cx="4403.8" cy="610.8" r="116.0" fill="#7f96c5"/><g clip-path="url(#c8)" transform="rotate(-35 4398 618)"><rect x="4277.1" y="476.1" width="233.9" height="26.0" fill="#93a7d2" opacity="0.55"/><rect x="4268.7" y="523.4" width="257.4" height="23.1" fill="#738cbf" opacity="0.45"/><rect x="4256.4" y="563.7" width="261.9" height="18.9" fill="#93a7d2" opacity="0.55"/><rect x="4246.3" y="606.4" width="308.0" height="28.2" fill="#738cbf" opacity="0.45"/><rect x="4253.9" y="646.3" width="279.0" height="18.6" fill="#93a7d2" opacity="0.55"/><rect x="4245.9" y="683.4" width="302.1" height="26.3" fill="#738cbf" opacity="0.45"/><rect x="4296.1" y="728.3" width="260.0" height="19.7" fill="#93a7d2" opacity="0.55"/></g><circle cx="4398" cy="618" r="158.5" fill="none" stroke="#7e7e80" stroke-width="9"/><clipPath id="c9"><circle cx="4517" cy="968" r="146"/></clipPath><circle cx="4517" cy="968" r="155.0" fill="#ffffff"/><path d="M4663.9,968.0 L4663.6,983.4 L4659.9,998.4 L4655.9,1013.1 L4649.9,1027.2 L4645.6,1042.2 L4634.3,1053.2 L4624.2,1064.5 L4613.9,1075.6 L4602.1,1085.1 L4589.6,1093.7 L4575.9,1100.3 L4561.5,1105.0 L4547.2,1110.0 L4532.2,1112.3 L4517.0,1114.3 L4501.9,1111.7 L4487.1,1108.7 L4472.3,1105.4 L4457.5,1101.6 L4444.3,1094.0 L4430.5,1087.1 L4418.3,1077.6 L4408.8,1065.4 L4400.5,1052.6 L4389.6,1041.6 L4382.5,1027.9 L4378.6,1013.0 L4373.4,998.5 L4372.8,983.2 L4368.9,968.0 L4370.1,952.6 L4372.8,937.3 L4376.0,922.2 L4384.8,909.2 L4390.4,894.9 L4397.9,881.5 L4407.4,869.3 L4419.7,859.9 L4432.2,851.3 L4443.7,841.0 L4458.4,836.4 L4471.6,828.2 L4487.2,827.6 L4501.8,823.0 L4517.0,822.1 L4532.1,824.7 L4547.3,825.3 L4562.1,829.1 L4576.1,835.2 L4591.0,839.8 L4603.9,848.4 L4616.0,858.0 L4624.6,871.2 L4633.2,883.6 L4642.9,895.3 L4648.6,909.4 L4656.8,922.6 L4658.7,937.9 L4660.4,952.9Z" fill="#98abd5"/><circle cx="4519.9" cy="965.1" r="135.8" fill="#8a9fcd"/><circle cx="4522.8" cy="960.7" r="116.8" fill="#7f96c5"/><g clip-path="url(#c9)" transform="rotate(-35 4517 968)"><rect x="4384.4" y="831.3" width="264.7" height="28.4" fill="#93a7d2" opacity="0.55"/><rect x="4397.9" y="867.0" width="230.0" height="32.1" fill="#738cbf" opacity="0.45"/><rect x="4395.7" y="913.2" width="239.2" height="19.2" fill="#93a7d2" opacity="0.55"/><rect x="4396.6" y="952.1" width="255.8" height="20.3" fill="#738cbf" opacity="0.45"/><rect x="4403.0" y="997.4" width="247.9" height="15.8" fill="#93a7d2" opacity="0.55"/><rect x="4367.9" y="1036.1" width="275.5" height="27.5" fill="#738cbf" opacity="0.45"/><rect x="4370.7" y="1073.6" width="271.7" height="27.4" fill="#93a7d2" opacity="0.55"/></g><circle cx="4517" cy="968" r="159.5" fill="none" stroke="#7e7e80" stroke-width="9"/><clipPath id="c10"><circle cx="4392" cy="1353" r="73"/></clipPath><g clip-path="url(#c10)" transform="rotate(-40 4392 1353)"><line x1="4307" y1="1282.0" x2="4477" y2="1282.0" stroke="#7e7e80" stroke-width="6"/><line x1="4307" y1="1299.8" x2="4477" y2="1299.8" stroke="#7e7e80" stroke-width="6"/><line x1="4307" y1="1317.5" x2="4477" y2="1317.5" stroke="#7e7e80" stroke-width="6"/><line x1="4307" y1="1335.2" x2="4477" y2="1335.2" stroke="#7e7e80" stroke-width="6"/><line x1="4307" y1="1353.0" x2="4477" y2="1353.0" stroke="#7e7e80" stroke-width="6"/><line x1="4307" y1="1370.8" x2="4477" y2="1370.8" stroke="#7e7e80" stroke-width="6"/><line x1="4307" y1="1388.5" x2="4477" y2="1388.5" stroke="#7e7e80" stroke-width="6"/><line x1="4307" y1="1406.2" x2="4477" y2="1406.2" stroke="#7e7e80" stroke-width="6"/><line x1="4307" y1="1424.0" x2="4477" y2="1424.0" stroke="#7e7e80" stroke-width="6"/></g><circle cx="4392" cy="1353" r="81" fill="none" stroke="#7e7e80" stroke-width="10"/><clipPath id="c11"><circle cx="2405" cy="2086" r="251"/></clipPath><circle cx="2405" cy="2086" r="260.0" fill="#ffffff"/><path d="M2654.3,2086.0 L2655.6,2112.3 L2651.2,2138.3 L2643.6,2163.5 L2633.0,2187.5 L2623.6,2212.2 L2609.3,2234.4 L2591.6,2254.0 L2573.0,2272.5 L2551.8,2288.0 L2529.3,2301.2 L2506.8,2314.7 L2482.7,2325.1 L2456.7,2329.4 L2431.4,2337.1 L2405.0,2335.7 L2378.9,2334.3 L2353.3,2329.3 L2326.7,2327.1 L2302.4,2316.4 L2278.6,2305.0 L2257.1,2289.5 L2238.6,2270.8 L2219.1,2253.4 L2201.9,2233.5 L2189.3,2210.5 L2173.6,2189.0 L2166.9,2163.4 L2161.2,2137.8 L2153.8,2112.4 L2155.9,2086.0 L2153.2,2059.5 L2159.7,2033.9 L2166.0,2008.4 L2176.4,1984.2 L2187.7,1960.5 L2203.2,1939.4 L2220.2,1919.6 L2235.8,1898.1 L2258.2,1884.0 L2278.8,1867.4 L2303.5,1858.0 L2326.7,1845.1 L2352.4,1838.6 L2378.6,1835.1 L2405.0,1833.7 L2431.3,1836.0 L2457.4,1839.4 L2482.0,1849.1 L2507.0,1856.8 L2531.3,1867.2 L2551.7,1884.1 L2574.4,1897.9 L2593.0,1916.8 L2607.7,1938.7 L2621.8,1960.8 L2634.1,1984.0 L2643.2,2008.6 L2652.9,2033.3 L2654.1,2059.8Z" fill="#a9dcdf"/><circle cx="2410.0" cy="2081.0" r="233.4" fill="#92d1d5"/><circle cx="2415.0" cy="2073.4" r="200.8" fill="#80c8cd"/><g clip-path="url(#c11)" transform="rotate(-30 2405 2086)"><rect x="2165.5" y="1839.5" width="463.3" height="45.9" fill="#98d4d8" opacity="0.55"/><rect x="2148.2" y="1911.0" width="484.0" height="49.0" fill="#72bfc5" opacity="0.45"/><rect x="2229.0" y="1998.3" width="389.0" height="32.2" fill="#98d4d8" opacity="0.55"/><rect x="2149.6" y="2074.5" width="454.4" height="27.2" fill="#72bfc5" opacity="0.45"/><rect x="2129.1" y="2137.8" width="525.7" height="26.4" fill="#98d4d8" opacity="0.55"/><rect x="2225.9" y="2217.0" width="387.8" height="43.7" fill="#72bfc5" opacity="0.45"/><rect x="2133.7" y="2286.8" width="484.0" height="28.6" fill="#98d4d8" opacity="0.55"/></g><circle cx="2405" cy="2086" r="265.0" fill="none" stroke="#7e7e80" stroke-width="10"/><clipPath id="c12"><circle cx="2177" cy="2562" r="174"/></clipPath><circle cx="2177" cy="2562" r="183.0" fill="#ffffff"/><path d="M2353.3,2562.0 L2348.3,2580.0 L2344.9,2597.7 L2344.9,2616.5 L2334.5,2632.1 L2326.0,2648.1 L2318.4,2664.7 L2305.7,2677.9 L2294.7,2692.8 L2278.5,2701.7 L2265.1,2714.7 L2247.4,2720.1 L2230.9,2728.0 L2213.6,2734.3 L2195.3,2736.0 L2177.0,2738.1 L2158.7,2736.1 L2141.3,2730.0 L2122.6,2729.3 L2106.0,2721.4 L2090.5,2711.9 L2075.6,2701.5 L2059.4,2692.6 L2047.4,2678.7 L2034.5,2665.6 L2025.1,2649.7 L2015.9,2633.7 L2011.2,2615.9 L2005.8,2598.4 L2003.4,2580.2 L2004.2,2562.0 L2001.7,2543.6 L2007.7,2526.0 L2010.2,2507.8 L2016.0,2490.3 L2025.7,2474.6 L2037.7,2460.8 L2046.5,2444.5 L2060.0,2432.1 L2075.7,2422.5 L2091.1,2413.3 L2106.2,2402.9 L2124.0,2398.7 L2140.4,2389.7 L2158.8,2388.9 L2177.0,2387.9 L2195.1,2389.4 L2213.3,2391.0 L2231.4,2394.5 L2247.4,2403.9 L2263.7,2411.9 L2279.5,2420.9 L2292.8,2433.4 L2306.7,2445.3 L2317.9,2459.6 L2327.4,2475.2 L2336.7,2490.9 L2342.6,2508.2 L2345.2,2526.3 L2352.5,2543.6Z" fill="#84c466"/><circle cx="2180.5" cy="2558.5" r="161.8" fill="#78bf59"/><circle cx="2184.0" cy="2553.3" r="139.2" fill="#6cb94b"/><g clip-path="url(#c12)" transform="rotate(-50 2177 2562)"><rect x="2053.6" y="2410.7" width="314.7" height="20.3" fill="#82c464" opacity="0.55"/><rect x="2009.9" y="2447.1" width="313.0" height="19.9" fill="#63b241" opacity="0.45"/><rect x="1988.4" y="2507.9" width="332.6" height="22.2" fill="#82c464" opacity="0.55"/><rect x="2007.5" y="2545.3" width="355.6" height="36.9" fill="#63b241" opacity="0.45"/><rect x="1993.9" y="2606.1" width="346.0" height="18.4" fill="#82c464" opacity="0.55"/><rect x="1996.1" y="2647.4" width="343.3" height="21.4" fill="#63b241" opacity="0.45"/><rect x="1988.3" y="2702.0" width="349.9" height="33.6" fill="#82c464" opacity="0.55"/></g><circle cx="2177" cy="2562" r="188.5" fill="none" stroke="#7e7e80" stroke-width="11"/><clipPath id="c13"><circle cx="2570" cy="2672" r="145"/></clipPath><circle cx="2570" cy="2672" r="154.0" fill="#ffffff"/><path d="M2717.1,2672.0 L2716.4,2687.4 L2713.8,2702.6 L2705.9,2716.2 L2702.9,2731.2 L2695.2,2744.3 L2687.4,2757.3 L2676.4,2767.8 L2666.0,2778.6 L2655.1,2789.1 L2641.8,2796.4 L2628.9,2804.3 L2614.1,2807.6 L2599.7,2811.8 L2585.3,2817.2 L2570.0,2816.6 L2554.8,2816.3 L2539.6,2815.0 L2525.4,2809.2 L2511.9,2802.4 L2496.8,2798.8 L2484.5,2789.7 L2472.4,2780.3 L2461.8,2769.4 L2450.8,2758.6 L2445.0,2744.2 L2436.3,2731.5 L2432.7,2716.6 L2427.8,2702.2 L2425.0,2687.2 L2425.9,2672.0 L2427.9,2657.1 L2428.3,2641.9 L2431.1,2626.9 L2437.1,2612.8 L2444.7,2599.6 L2452.1,2586.4 L2463.4,2576.0 L2474.1,2565.4 L2485.3,2555.4 L2496.7,2545.1 L2511.6,2540.9 L2525.8,2535.9 L2540.3,2532.1 L2555.1,2530.1 L2570.0,2528.1 L2585.2,2527.4 L2600.5,2528.6 L2614.5,2534.9 L2628.7,2540.1 L2642.0,2547.3 L2654.7,2555.5 L2668.0,2563.2 L2677.9,2574.8 L2686.3,2587.5 L2693.9,2600.5 L2703.8,2612.4 L2708.9,2626.9 L2713.4,2641.5 L2712.9,2657.0Z" fill="#98abd5"/><circle cx="2572.9" cy="2669.1" r="134.8" fill="#8a9fcd"/><circle cx="2575.8" cy="2664.8" r="116.0" fill="#7f96c5"/><g clip-path="url(#c13)" transform="rotate(-35 2570 2672)"><rect x="2416.7" y="2538.4" width="259.6" height="31.0" fill="#93a7d2" opacity="0.55"/><rect x="2437.8" y="2579.5" width="241.3" height="21.9" fill="#738cbf" opacity="0.45"/><rect x="2455.7" y="2615.0" width="242.2" height="22.2" fill="#93a7d2" opacity="0.55"/><rect x="2427.3" y="2657.1" width="268.6" height="16.0" fill="#738cbf" opacity="0.45"/><rect x="2447.7" y="2700.0" width="227.2" height="27.3" fill="#93a7d2" opacity="0.55"/><rect x="2430.3" y="2746.6" width="277.2" height="24.8" fill="#738cbf" opacity="0.45"/><rect x="2424.4" y="2792.7" width="268.5" height="20.8" fill="#93a7d2" opacity="0.55"/></g><circle cx="2570" cy="2672" r="159.0" fill="none" stroke="#7e7e80" stroke-width="10"/><clipPath id="c14"><circle cx="1996" cy="2211" r="58"/></clipPath><g clip-path="url(#c14)" transform="rotate(-40 1996 2211)"><line x1="1926" y1="2155.0" x2="2066" y2="2155.0" stroke="#7e7e80" stroke-width="6"/><line x1="1926" y1="2169.0" x2="2066" y2="2169.0" stroke="#7e7e80" stroke-width="6"/><line x1="1926" y1="2183.0" x2="2066" y2="2183.0" stroke="#7e7e80" stroke-width="6"/><line x1="1926" y1="2197.0" x2="2066" y2="2197.0" stroke="#7e7e80" stroke-width="6"/><line x1="1926" y1="2211.0" x2="2066" y2="2211.0" stroke="#7e7e80" stroke-width="6"/><line x1="1926" y1="2225.0" x2="2066" y2="2225.0" stroke="#7e7e80" stroke-width="6"/><line x1="1926" y1="2239.0" x2="2066" y2="2239.0" stroke="#7e7e80" stroke-width="6"/><line x1="1926" y1="2253.0" x2="2066" y2="2253.0" stroke="#7e7e80" stroke-width="6"/><line x1="1926" y1="2267.0" x2="2066" y2="2267.0" stroke="#7e7e80" stroke-width="6"/></g><circle cx="1996" cy="2211" r="66" fill="none" stroke="#7e7e80" stroke-width="10"/><clipPath id="c15"><circle cx="1884" cy="2356" r="59"/></clipPath><g clip-path="url(#c15)" transform="rotate(-40 1884 2356)"><line x1="1813" y1="2299.0" x2="1955" y2="2299.0" stroke="#7e7e80" stroke-width="6"/><line x1="1813" y1="2313.2" x2="1955" y2="2313.2" stroke="#7e7e80" stroke-width="6"/><line x1="1813" y1="2327.5" x2="1955" y2="2327.5" stroke="#7e7e80" stroke-width="6"/><line x1="1813" y1="2341.8" x2="1955" y2="2341.8" stroke="#7e7e80" stroke-width="6"/><line x1="1813" y1="2356.0" x2="1955" y2="2356.0" stroke="#7e7e80" stroke-width="6"/><line x1="1813" y1="2370.2" x2="1955" y2="2370.2" stroke="#7e7e80" stroke-width="6"/><line x1="1813" y1="2384.5" x2="1955" y2="2384.5" stroke="#7e7e80" stroke-width="6"/><line x1="1813" y1="2398.8" x2="1955" y2="2398.8" stroke="#7e7e80" stroke-width="6"/><line x1="1813" y1="2413.0" x2="1955" y2="2413.0" stroke="#7e7e80" stroke-width="6"/></g><circle cx="1884" cy="2356" r="67" fill="none" stroke="#7e7e80" stroke-width="10"/><clipPath id="c16"><circle cx="3131" cy="2347" r="222"/></clipPath><circle cx="3131" cy="2347" r="231.0" fill="#ffffff"/><path d="M3354.2,2347.0 L3350.3,2370.0 L3346.7,2392.8 L3342.6,2415.8 L3331.8,2436.4 L3324.5,2458.7 L3311.7,2478.3 L3294.3,2494.0 L3280.2,2512.7 L3261.5,2526.6 L3242.3,2539.8 L3222.2,2551.9 L3200.4,2560.4 L3177.1,2563.7 L3154.4,2569.5 L3131.0,2570.4 L3107.5,2570.1 L3085.3,2561.8 L3061.7,2560.2 L3041.3,2548.5 L3020.9,2537.7 L3000.2,2527.0 L2981.3,2513.2 L2964.3,2497.1 L2951.9,2477.1 L2937.3,2458.8 L2930.3,2436.3 L2917.6,2416.3 L2914.9,2392.9 L2910.0,2370.2 L2910.9,2347.0 L2912.5,2324.0 L2916.3,2301.4 L2919.4,2278.2 L2927.9,2256.6 L2937.4,2235.2 L2950.0,2215.5 L2966.3,2198.7 L2981.3,2180.7 L3001.4,2168.6 L3019.0,2153.1 L3041.2,2145.3 L3061.7,2133.8 L3085.0,2130.4 L3107.8,2126.6 L3131.0,2124.9 L3154.0,2128.4 L3176.7,2131.9 L3199.7,2135.7 L3221.7,2143.2 L3240.9,2156.7 L3261.2,2167.8 L3279.1,2182.5 L3297.0,2197.5 L3312.6,2215.1 L3321.5,2237.0 L3334.0,2256.6 L3340.3,2279.0 L3349.5,2300.5 L3354.0,2323.6Z" fill="#c4b8a0"/><circle cx="3135.4" cy="2342.6" r="206.5" fill="#baad92"/><circle cx="3139.9" cy="2335.9" r="177.6" fill="#b4a588"/><g clip-path="url(#c16)" transform="rotate(-55 3131 2347)"><rect x="2957.4" y="2148.4" width="382.4" height="27.6" fill="#c3b79f" opacity="0.55"/><rect x="2907.7" y="2188.9" width="382.4" height="42.9" fill="#a99a7d" opacity="0.45"/><rect x="2919.2" y="2269.8" width="451.9" height="35.6" fill="#c3b79f" opacity="0.55"/><rect x="2900.6" y="2341.3" width="455.6" height="33.1" fill="#a99a7d" opacity="0.45"/><rect x="2892.3" y="2409.4" width="413.8" height="23.0" fill="#c3b79f" opacity="0.55"/><rect x="2901.1" y="2446.6" width="470.2" height="38.1" fill="#a99a7d" opacity="0.45"/><rect x="2972.9" y="2512.1" width="399.5" height="44.2" fill="#c3b79f" opacity="0.55"/></g><circle cx="3131" cy="2347" r="236.5" fill="none" stroke="#7e7e80" stroke-width="11"/><path d="M2580,1345 C2550,1530 2560,1735 2700,1835 C2850,1955 3160,1935 3320,1722" fill="none" stroke="#737375" stroke-width="8" stroke-dasharray="38 30" stroke-linecap="round"/><path d="M3418,985 C3405,1150 3390,1350 3377,1500" fill="none" stroke="#737375" stroke-width="8" stroke-dasharray="34 38" stroke-linecap="round"/><path d="M3888,1498 C3875,1680 3680,1760 3484,1674" fill="none" stroke="#737375" stroke-width="8" stroke-dasharray="38 30" stroke-linecap="round"/><path d="M2298,2617 C2360,2630 2410,2660 2463,2676" fill="none" stroke="#737375" stroke-width="8" stroke-dasharray="38 30" stroke-linecap="round"/><path d="M2673,2704 C2760,2760 2920,2790 3020,2700 C3080,2650 3100,2610 3110,2570" fill="none" stroke="#737375" stroke-width="8" stroke-dasharray="38 30" stroke-linecap="round"/><path d="M3733.0,519.0 L3779.4,505.8 L4066.0,401.7 L4110.0,382.0 L4063.6,395.2 L3777.0,499.3Z" fill="#7e7e80" stroke="#7e7e80" stroke-width="1.5" stroke-linejoin="round"/><path d="M3764.0,622.0 L3828.1,625.3 L4233.9,623.7 L4298.0,620.0 L4233.9,616.7 L3828.1,618.3Z" fill="#7e7e80" stroke="#7e7e80" stroke-width="1.5" stroke-linejoin="round"/><path d="M3729.0,718.0 L3813.3,750.4 L4354.4,934.3 L4441.0,960.0 L4356.7,927.6 L3815.6,743.7Z" fill="#7e7e80" stroke="#7e7e80" stroke-width="1.5" stroke-linejoin="round"/><path d="M3570.0,900.0 L3593.2,927.5 L3755.9,1085.5 L3784.0,1108.0 L3760.8,1080.5 L3598.1,922.5Z" fill="#7e7e80" stroke="#7e7e80" stroke-width="1.5" stroke-linejoin="round"/><path d="M3270.0,930.0 L3251.2,965.0 L3152.4,1195.3 L3140.0,1233.0 L3158.8,1198.0 L3257.6,967.7Z" fill="#7e7e80" stroke="#7e7e80" stroke-width="1.5" stroke-linejoin="round"/><path d="M3017.0,1474.0 L3002.4,1486.6 L2927.2,1580.0 L2918.0,1597.0 L2932.6,1584.4 L3007.8,1491.0Z" fill="#7e7e80" stroke="#7e7e80" stroke-width="1.5" stroke-linejoin="round"/><path d="M3205.0,1422.0 L3218.2,1437.0 L3315.5,1514.5 L3333.0,1524.0 L3319.8,1509.0 L3222.5,1431.5Z" fill="#7e7e80" stroke="#7e7e80" stroke-width="1.5" stroke-linejoin="round"/><path d="M4135.0,1339.0 L4170.1,1346.0 L4394.3,1368.0 L4430.0,1368.0 L4394.9,1361.0 L4170.7,1339.0Z" fill="#7e7e80" stroke="#7e7e80" stroke-width="1.5" stroke-linejoin="round"/><path d="M2018.0,2244.0 L2025.0,2265.3 L2088.8,2389.9 L2102.0,2408.0 L2095.0,2386.7 L2031.2,2262.1Z" fill="#7e7e80" stroke="#7e7e80" stroke-width="1.5" stroke-linejoin="round"/><path d="M1910.0,2370.0 L1923.7,2385.8 L2024.8,2468.6 L2043.0,2479.0 L2029.3,2463.2 L1928.2,2380.4Z" fill="#7e7e80" stroke="#7e7e80" stroke-width="1.5" stroke-linejoin="round"/><path d="M2307.0,2296.0 L2293.9,2312.4 L2230.0,2427.2 L2223.0,2447.0 L2236.1,2430.6 L2300.0,2315.8Z" fill="#7e7e80" stroke="#7e7e80" stroke-width="1.5" stroke-linejoin="round"/><path d="M2472.0,2298.0 L2479.8,2337.0 L2550.5,2577.9 L2565.0,2615.0 L2557.2,2576.0 L2486.5,2335.1Z" fill="#7e7e80" stroke="#7e7e80" stroke-width="1.5" stroke-linejoin="round"/><path d="M3447,1681 L3447,1634 L3489,1641" fill="none" stroke="#7e7e80" stroke-width="7" stroke-linecap="round"/><path d="M3100,2510 L3121,2485 L3145,2508 M3121,2487 L3117,2535" fill="none" stroke="#7e7e80" stroke-width="6" stroke-linecap="round"/><path transform="translate(3145,612) rotate(-0.9) skewX(0) scale(0.6752,0.5800)" d="M68.5,24.5 L60.7,13.8 L50.8,6.8 L39.6,4.0 L28.4,5.8 L18.1,11.9 L9.8,21.9 L4.1,34.7 L1.7,49.1 L2.7,63.8 L7.1,77.3 L14.5,88.5 L24.2,96.3 L35.2,99.8 L46.4,98.8 L57.0,93.4 L65.7,84.1 M116.0,0.8 L127.2,0.8 L137.7,6.8 L146.2,18.1 L151.8,33.3 L153.6,50.5 L151.5,67.6 L145.8,82.7 L137.2,93.7 L126.6,99.4 L115.4,99.1 L105.0,92.8 L96.6,81.2 L91.3,65.9 L89.6,48.6 L91.9,31.5 L97.7,16.7 L106.5,5.9 L117.1,0.5 M179.2,52.0 L211.2,50.0 M237.6,22.0 L247.2,100.0 L276.0,8.0 L279.2,92.0 L329.6,-2.0 M380.0,0.8 L391.2,0.8 L401.7,6.8 L410.2,18.1 L415.8,33.3 L417.6,50.5 L415.5,67.6 L409.8,82.7 L401.2,93.7 L390.6,99.4 L379.4,99.1 L369.0,92.8 L360.6,81.2 L355.3,65.9 L353.6,48.6 L355.9,31.5 L361.7,16.7 L370.5,5.9 L381.1,0.5 M448.0,100.0 L449.6,4.0 M441.6,8.0 L480.0,0.0 L502.4,10.0 L499.2,34.0 L465.6,54.0 L435.2,60.0 M460.8,60.0 L518.4,96.0 M545.6,0.0 L544.0,100.0 M601.6,0.0 L539.2,60.0 L611.2,96.0 M643.2,0.0 L641.6,100.0 M676.8,100.0 L678.4,0.0 L734.4,100.0 L740.8,-4.0 M831.4,21.1 L823.2,11.7 L813.3,5.9 L802.6,4.0 L791.8,6.3 L782.1,12.7 L774.2,22.4 L768.8,34.8 L766.5,48.7 L767.3,62.8 L771.3,76.0 L778.1,87.1 L787.1,95.1 L797.4,99.4 L808.3,99.5 L818.8,95.5 L827.8,87.7 L840.0,78.0 L838.4,52.0 L808.8,56.0" fill="none" stroke="#3c393b" stroke-width="12.9" stroke-linecap="round" stroke-linejoin="round"/><path transform="translate(3286,694) rotate(0) skewX(0) scale(0.6513,0.6200)" d="M56.0,10.0 L36.0,0.0 L12.0,5.0 L4.0,25.0 L16.0,45.0 L44.0,55.0 L56.0,75.0 L48.0,95.0 L24.0,100.0 L-1.6,92.0 M86.4,100.0 L88.0,2.0 M81.6,6.0 L120.0,0.0 L140.8,12.0 L139.2,36.0 L113.6,52.0 L84.8,54.0 M168.0,100.0 L209.6,0.0 L220.8,100.0 M164.8,74.0 L232.0,66.0 M332.5,24.5 L324.7,13.8 L314.8,6.8 L303.6,4.0 L292.4,5.8 L282.1,11.9 L273.8,21.9 L268.1,34.7 L265.7,49.1 L266.7,63.8 L271.1,77.3 L278.5,88.5 L288.2,96.3 L299.2,99.8 L310.4,98.8 L321.0,93.4 L329.7,84.1 M360.0,8.0 L358.4,100.0 M353.6,10.0 L416.0,0.0 M355.2,54.0 L403.2,48.0 M356.8,100.0 L417.6,92.0" fill="none" stroke="#3c393b" stroke-width="12.1" stroke-linecap="round" stroke-linejoin="round"/><path transform="translate(2562,1030) rotate(-3) skewX(-5) scale(0.7419,0.6600)" d="M0.0,22.0 L9.6,100.0 L38.4,8.0 L41.6,92.0 L92.0,-2.0 M142.4,0.8 L153.6,0.8 L164.1,6.8 L172.6,18.1 L178.2,33.3 L180.0,50.5 L177.9,67.6 L172.2,82.7 L163.6,93.7 L153.0,99.4 L141.8,99.1 L131.4,92.8 L123.0,81.2 L117.7,65.9 L116.0,48.6 L118.3,31.5 L124.1,16.7 L132.9,5.9 L143.5,0.5 M210.4,100.0 L212.0,4.0 M204.0,8.0 L242.4,0.0 L264.8,10.0 L261.6,34.0 L228.0,54.0 L197.6,60.0 M223.2,60.0 L280.8,96.0 M308.0,0.0 L306.4,100.0 M364.0,0.0 L301.6,60.0 L373.6,96.0" fill="none" stroke="#3c393b" stroke-width="9.8" stroke-linecap="round" stroke-linejoin="round"/><path transform="translate(2580,1100) rotate(-3.5) skewX(-5) scale(0.7183,0.7000)" d="M0.0,100.0 L41.6,0.0 L52.8,100.0 M-3.2,74.0 L64.0,66.0 M102.4,100.0 L104.0,4.0 M96.0,8.0 L134.4,0.0 L156.8,10.0 L153.6,34.0 L120.0,54.0 L89.6,60.0 M115.2,60.0 L172.8,96.0 M200.0,8.0 L198.4,100.0 M193.6,10.0 L256.0,0.0 M195.2,54.0 L243.2,48.0 M196.8,100.0 L257.6,92.0 M281.6,100.0 L323.2,0.0 L334.4,100.0 M278.4,74.0 L345.6,66.0" fill="none" stroke="#3c393b" stroke-width="9.3" stroke-linecap="round" stroke-linejoin="round"/><path transform="translate(2984,1297) rotate(-3) skewX(-12) scale(0.6807,0.6600)" d="M4.8,0.0 L3.2,100.0 M62.4,0.0 L60.8,100.0 M-4.8,52.0 L72.0,46.0 M92.0,100.0 L133.6,0.0 L144.8,100.0 M88.8,74.0 L156.0,66.0 M192.8,0.0 L191.2,100.0 L248.8,94.0 M276.8,0.0 L275.2,100.0 L332.8,94.0" fill="none" stroke="#3c393b" stroke-width="9.1" stroke-linecap="round" stroke-linejoin="round"/><path transform="translate(3710,1280) rotate(-1.6) skewX(-5) scale(0.6913,0.6000)" d="M66.6,21.1 L58.4,11.7 L48.5,5.9 L37.8,4.0 L27.0,6.3 L17.3,12.7 L9.4,22.4 L4.0,34.8 L1.7,48.7 L2.5,62.8 L6.5,76.0 L13.3,87.1 L22.3,95.1 L32.6,99.4 L43.5,99.5 L54.0,95.5 L63.0,87.7 L75.2,78.0 L73.6,52.0 L44.0,56.0 M96.0,100.0 L137.6,0.0 L148.8,100.0 M92.8,74.0 L160.0,66.0 M198.4,100.0 L200.0,4.0 M192.0,8.0 L230.4,0.0 L252.8,10.0 L249.6,34.0 L216.0,54.0 L185.6,60.0 M211.2,60.0 L268.8,96.0 M294.4,2.0 L292.8,100.0 M289.6,4.0 L321.6,0.0 L349.6,20.0 L357.6,52.0 L347.2,85.0 L320.0,98.0 L292.8,100.0 M388.0,8.0 L386.4,100.0 M381.6,10.0 L444.0,0.0 M383.2,54.0 L431.2,48.0 M384.8,100.0 L445.6,92.0 M471.2,100.0 L472.8,0.0 L528.8,100.0 L535.2,-4.0" fill="none" stroke="#3c393b" stroke-width="10.8" stroke-linecap="round" stroke-linejoin="round"/><path transform="translate(2236,2072) rotate(-1.5) skewX(-10) scale(0.6153,0.6400)" d="M4.8,0.0 L3.2,100.0 L60.8,94.0 M93.6,0.0 L92.0,100.0 M130.4,2.0 L128.8,100.0 M125.6,6.0 L161.6,0.0 L183.2,10.0 L181.6,32.0 L157.6,48.0 L132.0,50.0 L169.6,52.0 L189.6,66.0 L186.4,88.0 L161.6,100.0 L125.6,98.0 M220.0,100.0 L221.6,4.0 M213.6,8.0 L252.0,0.0 L274.4,10.0 L271.2,34.0 L237.6,54.0 L207.2,60.0 M232.8,60.0 L290.4,96.0 M311.2,100.0 L352.8,0.0 L364.0,100.0 M308.0,74.0 L375.2,66.0 M413.6,100.0 L415.2,4.0 M407.2,8.0 L445.6,0.0 L468.0,10.0 L464.8,34.0 L431.2,54.0 L400.8,60.0 M426.4,60.0 L484.0,96.0 M504.8,4.0 L536.8,50.0 L568.8,-2.0 M536.8,50.0 L535.2,100.0" fill="none" stroke="#3c393b" stroke-width="9.4" stroke-linecap="round" stroke-linejoin="round"/><path transform="translate(2058,2540) rotate(-2) skewX(-8) scale(0.4906,0.4600)" d="M4.8,0.0 L3.2,100.0 L60.8,94.0 M110.4,0.8 L121.6,0.8 L132.1,6.8 L140.6,18.1 L146.2,33.3 L148.0,50.5 L145.9,67.6 L140.2,82.7 L131.6,93.7 L121.0,99.4 L109.8,99.1 L99.4,92.8 L91.0,81.2 L85.7,65.9 L84.0,48.6 L86.3,31.5 L92.1,16.7 L100.9,5.9 L111.5,0.5 M173.6,0.0 L172.0,65.0 L181.6,92.0 L204.0,100.0 L226.4,92.0 L236.0,65.0 L237.6,0.0 M261.6,100.0 L263.2,0.0 L319.2,100.0 L325.6,-4.0 M416.2,21.1 L408.0,11.7 L398.1,5.9 L387.4,4.0 L376.6,6.3 L366.9,12.7 L359.0,22.4 L353.6,34.8 L351.3,48.7 L352.1,62.8 L356.1,76.0 L362.9,87.1 L371.9,95.1 L382.2,99.4 L393.1,99.5 L403.6,95.5 L412.6,87.7 L424.8,78.0 L423.2,52.0 L393.6,56.0 M452.0,8.0 L450.4,100.0 M445.6,10.0 L508.0,0.0 M447.2,54.0 L495.2,48.0 M448.8,100.0 L509.6,92.0" fill="none" stroke="#3c393b" stroke-width="13.0" stroke-linecap="round" stroke-linejoin="round"/><path transform="translate(2938,2333) rotate(-2.4) skewX(-8) scale(0.5351,0.5200)" d="M6.4,100.0 L8.0,4.0 M0.0,8.0 L38.4,0.0 L60.8,10.0 L57.6,34.0 L24.0,54.0 L-6.4,60.0 M19.2,60.0 L76.8,96.0 M104.0,8.0 L102.4,100.0 M97.6,10.0 L160.0,0.0 M99.2,54.0 L147.2,48.0 M100.8,100.0 L161.6,92.0 M254.1,24.5 L246.3,13.8 L236.4,6.8 L225.2,4.0 L214.0,5.8 L203.7,11.9 L195.4,21.9 L189.7,34.7 L187.3,49.1 L188.3,63.8 L192.7,77.3 L200.1,88.5 L209.8,96.3 L220.8,99.8 L232.0,98.8 L242.6,93.4 L251.3,84.1 M281.6,8.0 L280.0,100.0 M275.2,10.0 L337.6,0.0 M276.8,54.0 L324.8,48.0 M278.4,100.0 L339.2,92.0 M368.0,100.0 L369.6,2.0 M363.2,6.0 L401.6,0.0 L422.4,12.0 L420.8,36.0 L395.2,52.0 L366.4,54.0 M449.6,6.0 L516.8,0.0 M483.2,2.0 L481.6,100.0 M548.8,0.0 L547.2,100.0 M607.2,0.8 L618.4,0.8 L628.9,6.8 L637.4,18.1 L643.0,33.3 L644.8,50.5 L642.7,67.6 L637.0,82.7 L628.4,93.7 L617.8,99.4 L606.6,99.1 L596.2,92.8 L587.8,81.2 L582.5,65.9 L580.8,48.6 L583.1,31.5 L588.9,16.7 L597.7,5.9 L608.3,0.5 M670.4,100.0 L672.0,0.0 L728.0,100.0 L734.4,-4.0" fill="none" stroke="#3c393b" stroke-width="12.5" stroke-linecap="round" stroke-linejoin="round"/><path transform="translate(2449,490) rotate(-3.2) skewX(0) scale(0.6437,0.6600)" d="M6.4,8.0 L4.8,100.0 M0.0,10.0 L62.4,0.0 M1.6,54.0 L49.6,48.0 M3.2,100.0 L64.0,92.0 M89.6,100.0 L91.2,0.0 L147.2,100.0 L153.6,-4.0 M177.6,6.0 L244.8,0.0 M211.2,2.0 L209.6,100.0 M273.6,100.0 L275.2,4.0 M267.2,8.0 L305.6,0.0 L328.0,10.0 L324.8,34.0 L291.2,54.0 L260.8,60.0 M286.4,60.0 L344.0,96.0 M364.8,4.0 L396.8,50.0 L428.8,-2.0 M396.8,50.0 L395.2,100.0" fill="none" stroke="#4a4a4c" stroke-width="11.4" stroke-linecap="round" stroke-linejoin="round"/><path d="M2782,500 L2867,490 L2866,444 L2965,502 L2886,596 L2883,541 L2788,552 Z" fill="none" stroke="#4a4a4c" stroke-width="6" stroke-linejoin="miter"/><path d="M3333,1890 L3378,1909 L3347,1982 L3387,2006 L3289,2062 L3251,1953 L3301,1976 Z" fill="none" stroke="#4a4a4c" stroke-width="6" /><path d="M2721,2178 L2807,2144 L2792,2183 L2857,2210 L2844,2246 L2797,2229 L2776,2232 L2765,2257 Z" fill="none" stroke="#e0574a" stroke-width="8.5" stroke-linejoin="miter"/><line x1="2757.0" y1="2125.0" x2="2806.0" y2="2290.0" stroke="#e0574a" stroke-width="18" /><path d="M4038,1982 L4110,2040 M4090,1966 L4053,2046" fill="none" stroke="#e0574a" stroke-width="11" stroke-linecap="round"/><clipPath id="c17"><rect x="1441" y="1158" width="554" height="575"/></clipPath><path d="M1441.2,1156.7 L1493.6,1158.9 L1550.1,1156.5 L1606.6,1158.8 L1665.5,1157.8 L1721.0,1161.0 L1771.9,1155.4 L1826.8,1160.1 L1884.8,1160.5 L1942.4,1158.9 L1995.2,1155.4 L1992.1,1159.8 L1996.0,1217.1 L1995.4,1274.0 L1995.8,1332.9 L1992.7,1388.0 L1993.9,1447.5 L1997.3,1501.5 L1992.5,1559.0 L1993.9,1619.6 L1994.5,1677.0 L1993.8,1733.1 L1993.1,1733.9 L1939.7,1735.2 L1886.9,1733.1 L1826.2,1735.6 L1776.1,1732.8 L1717.9,1735.6 L1661.1,1731.5 L1608.4,1734.0 L1552.9,1735.0 L1496.5,1732.5 L1439.4,1731.3 L1440.2,1732.6 L1442.4,1676.2 L1441.1,1617.3 L1441.8,1559.8 L1442.8,1503.9 L1442.2,1444.7 L1441.1,1389.3 L1443.7,1330.7 L1439.9,1274.1 L1438.7,1214.5 L1438.2,1158.3Z" fill="#f08a80"/><rect x="1467.0" y="1184.0" width="502.0" height="523.0" fill="#ec7366"/><rect x="1498.2" y="1215.2" width="439.6" height="460.6" fill="#e65f52" opacity="0.7"/><g clip-path="url(#c17)"><g transform="rotate(-38 1718.0 1445.5)"><rect x="1398.6" y="1075.6" width="638.8" height="30.0" fill="#ee786b" opacity="0.6"/><rect x="1398.6" y="1162.7" width="638.8" height="33.3" fill="#df5547" opacity="0.45"/><rect x="1398.6" y="1246.7" width="638.8" height="42.8" fill="#ee786b" opacity="0.6"/><rect x="1398.6" y="1337.2" width="638.8" height="39.2" fill="#df5547" opacity="0.45"/><rect x="1398.6" y="1433.1" width="638.8" height="24.8" fill="#ee786b" opacity="0.6"/><rect x="1398.6" y="1516.9" width="638.8" height="34.6" fill="#df5547" opacity="0.45"/><rect x="1398.6" y="1610.9" width="638.8" height="24.1" fill="#ee786b" opacity="0.6"/><rect x="1398.6" y="1689.8" width="638.8" height="43.7" fill="#df5547" opacity="0.45"/><rect x="1398.6" y="1782.4" width="638.8" height="35.8" fill="#ee786b" opacity="0.6"/></g></g><path d="M1992,1290 L2020,1255 L2024,1330 L1992,1380 Z M1992,1420 L2024,1375 L2024,1450 L1992,1500 Z M1992,1530 L2024,1490 L2024,1560 L1992,1585 Z" fill="#e8606f" opacity="0.18"/><line x1="1615.0" y1="1140.0" x2="1615.0" y2="1740.0" stroke="#414042" stroke-width="4" /><line x1="1641.0" y1="1140.0" x2="1641.0" y2="1740.0" stroke="#414042" stroke-width="5" /><path d="M1499,1657 A86,86 0 0 1 1585,1740" fill="none" stroke="#414042" stroke-width="6" /><line x1="1499.0" y1="1656.0" x2="1499.0" y2="1740.0" stroke="#414042" stroke-width="6" /><path d="M1291,1027 C1287,900 1284,760 1282,668" fill="none" stroke="#1f6393" stroke-width="11" stroke-linecap="round"/><path d="M1241,752 L1282,666 L1331,749" fill="none" stroke="#1f6393" stroke-width="10" stroke-linecap="round" stroke-linejoin="round"/><path d="M1358,1107 C1380,990 1500,950 1695,928" fill="none" stroke="#1f6393" stroke-width="11" stroke-linecap="round"/><path d="M1630,894 L1697,928 L1628,993" fill="none" stroke="#1f6393" stroke-width="10" stroke-linecap="round" stroke-linejoin="round"/><path d="M1328,1349 C1270,1340 1255,1290 1252,1200 C1250,1110 1220,1060 1150,1053 C1090,1050 1040,1060 1008,1066" fill="none" stroke="#1f6393" stroke-width="11" stroke-linecap="round"/><path d="M1061,998 L1006,1066 L1078,1114" fill="none" stroke="#1f6393" stroke-width="10" stroke-linecap="round" stroke-linejoin="round"/><path d="M1297,2258 C1300,2100 1294,1900 1297,1642" fill="none" stroke="#1f6393" stroke-width="11" stroke-linecap="round"/><path d="M1235,1740 L1297,1640 L1350,1740" fill="none" stroke="#1f6393" stroke-width="10" stroke-linecap="round" stroke-linejoin="round"/><path d="M852,1136 C870,1230 870,1330 854,1403 C840,1440 780,1460 704,1460 C670,1462 640,1466 618,1470" fill="none" stroke="#e0574a" stroke-width="11" stroke-dasharray="46 30" stroke-linecap="round"/><path d="M668,1409 L617,1470 L682,1504" fill="none" stroke="#e0574a" stroke-width="11" stroke-linecap="round" stroke-linejoin="round"/><rect x="3542.0" y="1896.0" width="1247.0" height="24.0" fill="#414042" /><rect x="3542.0" y="2621.0" width="1247.0" height="24.0" fill="#414042" /><rect x="3542.0" y="1896.0" width="25.0" height="749.0" fill="#414042" /><rect x="4764.0" y="1896.0" width="25.0" height="749.0" fill="#414042" /><rect x="3549.0" y="1998.0" width="15.0" height="84.0" fill="#ffffff" rx="4" /><rect x="3549.0" y="2090.0" width="15.0" height="84.0" fill="#ffffff" rx="4" /><rect x="3549.0" y="2369.0" width="15.0" height="84.0" fill="#ffffff" rx="4" /><rect x="3549.0" y="2458.0" width="15.0" height="85.0" fill="#ffffff" rx="4" /><rect x="4767.0" y="2030.0" width="14.0" height="71.0" fill="#ffffff" rx="4" /><rect x="4767.0" y="2111.0" width="14.0" height="74.0" fill="#ffffff" rx="4" /><rect x="4767.0" y="2194.0" width="14.0" height="75.0" fill="#ffffff" rx="4" /><rect x="4767.0" y="2277.0" width="14.0" height="71.0" fill="#ffffff" rx="4" /><rect x="4767.0" y="2358.0" width="14.0" height="71.0" fill="#ffffff" rx="4" /><rect x="4767.0" y="2440.0" width="14.0" height="71.0" fill="#ffffff" rx="4" /><rect x="4386.0" y="1901.0" width="50.0" height="14.0" fill="#ffffff" rx="4" /><rect x="3977.0" y="2624.0" width="115.0" height="17.0" fill="#ffffff" /><line x1="3980.0" y1="2638.0" x2="4090.0" y2="2638.0" stroke="#999" stroke-width="2" /><rect x="3961.0" y="1920.0" width="15.0" height="254.0" fill="#414042" /><rect x="3961.0" y="2255.0" width="15.0" height="36.0" fill="#414042" /><rect x="3961.0" y="2369.0" width="15.0" height="252.0" fill="#414042" /><rect x="3567.0" y="2264.0" width="401.0" height="15.0" fill="#414042" rx="4" /><rect x="3976.0" y="2076.0" width="27.0" height="17.0" fill="#414042" rx="7" /><rect x="4071.0" y="2076.0" width="101.0" height="17.0" fill="#414042" /><path d="M4050,2077 L4050,2095 L4071,2095" fill="none" stroke="#414042" stroke-width="3" /><rect x="4095.0" y="2093.0" width="6.0" height="188.0" fill="#414042" /><rect x="4095.0" y="2266.0" width="77.0" height="18.0" fill="#414042" rx="4" /><rect x="4158.0" y="1920.0" width="16.0" height="361.0" fill="#414042" /><path d="M4128,2118 L4142,2130 L4155,2122 M4140,2128 L4137,2150 M4115,2152 L4137,2150 L4148,2163" fill="none" stroke="#414042" stroke-width="5" /><path d="M3887,2174 L3961,2174 M3887,2174 A79,79 0 0 0 3966,2253" fill="none" stroke="#414042" stroke-width="5" /><path d="M3882,2292 L3961,2292 M3882,2292 A84,84 0 0 0 3966,2369" fill="none" stroke="#414042" stroke-width="5" /><path d="M4095,2369 A85,85 0 0 0 4180,2287" fill="none" stroke="#414042" stroke-width="5" /><line x1="4101.0" y1="2290.0" x2="4180.0" y2="2290.0" stroke="#414042" stroke-width="4" /><rect x="3898.0" y="1920.0" width="63.0" height="199.0" fill="none" stroke="#414042" stroke-width="4"/><rect x="3900.0" y="2424.0" width="61.0" height="197.0" fill="none" stroke="#414042" stroke-width="4"/><rect x="4092.0" y="2387.0" width="13.0" height="234.0" fill="#414042" /><rect x="4092.0" y="2387.0" width="80.0" height="16.0" fill="#414042" rx="4" /><rect x="4156.0" y="2387.0" width="16.0" height="234.0" fill="#414042" /><line x1="4105.0" y1="2440.0" x2="4105.0" y2="2600.0" stroke="#414042" stroke-width="3" /><rect x="4158.0" y="2264.0" width="205.0" height="15.0" fill="#414042" rx="6" /><rect x="4173.0" y="1920.0" width="58.0" height="344.0" fill="none" stroke="#414042" stroke-width="4"/><line x1="4173.0" y1="2021.0" x2="4231.0" y2="2021.0" stroke="#414042" stroke-width="4" /><line x1="4173.0" y1="2121.0" x2="4231.0" y2="2121.0" stroke="#414042" stroke-width="4" /><line x1="4173.0" y1="2166.0" x2="4231.0" y2="2166.0" stroke="#414042" stroke-width="4" /><rect x="4231.0" y="1920.0" width="127.0" height="59.0" fill="none" stroke="#414042" stroke-width="4"/><line x1="4306.0" y1="1920.0" x2="4306.0" y2="1979.0" stroke="#414042" stroke-width="4" /><rect x="4231.0" y="2208.0" width="127.0" height="56.0" fill="none" stroke="#414042" stroke-width="4"/><line x1="4306.0" y1="2208.0" x2="4306.0" y2="2264.0" stroke="#414042" stroke-width="4" /><rect x="4439.0" y="1920.0" width="15.0" height="147.0" fill="#414042" /><rect x="4439.0" y="2153.0" width="15.0" height="132.0" fill="#414042" rx="5" /><rect x="4454.0" y="2227.0" width="219.0" height="17.0" fill="#414042" /><rect x="4658.0" y="2227.0" width="15.0" height="47.0" fill="#414042" /><line x1="4454.0" y1="2273.0" x2="4764.0" y2="2273.0" stroke="#414042" stroke-width="3" /><line x1="4454.0" y1="2281.0" x2="4764.0" y2="2281.0" stroke="#414042" stroke-width="2" /><path d="M4371,2073 L4439,2073 M4371,2073 A72,72 0 0 0 4443,2150" fill="none" stroke="#414042" stroke-width="5" /><rect x="4657.0" y="1993.0" width="107.0" height="29.0" fill="none" stroke="#414042" stroke-width="4"/><rect x="4657.0" y="2022.0" width="107.0" height="228.0" fill="none" stroke="#414042" stroke-width="4"/><line x1="4662.0" y1="2065.0" x2="4662.0" y2="2160.0" stroke="#414042" stroke-width="2" /><line x1="4670.0" y1="2060.0" x2="4670.0" y2="2165.0" stroke="#414042" stroke-width="2" /><line x1="4454.0" y1="2166.0" x2="4657.0" y2="2166.0" stroke="#414042" stroke-width="4" /><path d="M4720,2120 L4760,2120 M4745,2105 L4748,2135" fill="none" stroke="#414042" stroke-width="6" /><path d="M4492,2195 Q4480,2175 4500,2165 M4500,2200 L4520,2205" fill="none" stroke="#414042" stroke-width="6" /><path d="M4598,2200 Q4590,2180 4608,2176 Q4625,2180 4620,2205" fill="none" stroke="#414042" stroke-width="6" /><line x1="4759.0" y1="1960.0" x2="4764.0" y2="1965.0" stroke="#414042" stroke-width="5" /><clipPath id="c18"><rect x="4192" y="2285" width="570" height="328"/></clipPath><path d="M4189.1,2282.7 L4248.4,2286.1 L4303.8,2282.7 L4361.4,2286.5 L4417.9,2286.4 L4478.0,2282.8 L4534.2,2284.7 L4590.5,2288.0 L4645.6,2282.1 L4707.6,2284.4 L4760.2,2284.0 L4761.2,2287.7 L4760.3,2316.1 L4762.5,2350.9 L4764.7,2385.4 L4761.1,2414.4 L4764.0,2451.9 L4759.2,2483.2 L4764.2,2515.5 L4760.3,2549.2 L4763.4,2578.4 L4762.8,2611.3 L4759.2,2612.0 L4704.0,2612.4 L4648.9,2615.0 L4593.8,2615.9 L4537.0,2614.7 L4475.8,2611.1 L4420.7,2613.3 L4364.0,2610.6 L4304.2,2615.5 L4249.6,2614.2 L4189.6,2612.4 L4194.5,2613.9 L4194.9,2578.4 L4191.7,2549.2 L4191.7,2516.3 L4192.4,2479.5 L4189.6,2451.9 L4189.7,2414.4 L4191.0,2384.7 L4194.1,2350.5 L4192.0,2319.5 L4190.7,2284.2Z" fill="#f08a80"/><rect x="4218.0" y="2311.0" width="518.0" height="276.0" fill="#ec7366"/><rect x="4249.2" y="2342.2" width="455.6" height="213.6" fill="#e65f52" opacity="0.7"/><g clip-path="url(#c18)"><g transform="rotate(-35 4477.0 2449.0)"><rect x="4213.9" y="2140.8" width="526.1" height="31.8" fill="#ee786b" opacity="0.6"/><rect x="4213.9" y="2213.6" width="526.1" height="32.3" fill="#df5547" opacity="0.45"/><rect x="4213.9" y="2292.6" width="526.1" height="20.5" fill="#ee786b" opacity="0.6"/><rect x="4213.9" y="2365.0" width="526.1" height="21.9" fill="#df5547" opacity="0.45"/><rect x="4213.9" y="2437.8" width="526.1" height="22.5" fill="#ee786b" opacity="0.6"/><rect x="4213.9" y="2505.1" width="526.1" height="34.0" fill="#df5547" opacity="0.45"/><rect x="4213.9" y="2578.4" width="526.1" height="33.4" fill="#ee786b" opacity="0.6"/><rect x="4213.9" y="2648.7" width="526.1" height="38.9" fill="#df5547" opacity="0.45"/><rect x="4213.9" y="2723.8" width="526.1" height="34.9" fill="#ee786b" opacity="0.6"/></g></g><rect x="4359.0" y="2377.0" width="62.0" height="184.0" fill="none" stroke="#414042" stroke-width="4"/><rect x="4447.0" y="2412.0" width="197.0" height="204.0" fill="none" stroke="#414042" stroke-width="4"/><rect x="4384.0" y="2571.0" width="63.0" height="50.0" fill="none" stroke="#414042" stroke-width="4"/><rect x="4644.0" y="2571.0" width="60.0" height="50.0" fill="none" stroke="#414042" stroke-width="4"/><rect x="4452.0" y="2579.0" width="181.0" height="34.0" fill="none" stroke="#414042" stroke-width="4" rx="6"/><rect x="4706.0" y="2303.0" width="58.0" height="318.0" fill="none" stroke="#414042" stroke-width="4"/><path d="M3472,2513 C3600,2512 3700,2500 3722,2450 C3735,2410 3715,2360 3760,2343 C3840,2318 3980,2336 4090,2340" fill="none" stroke="#1f6393" stroke-width="12" stroke-linecap="round"/><path d="M4016,2303 L4092,2340 L4019,2390" fill="none" stroke="#1f6393" stroke-width="11" stroke-linecap="round" stroke-linejoin="round"/><path d="M4037,1982 L4116,2038 M4095,1967 L4053,2045" fill="none" stroke="#e0574a" stroke-width="13" stroke-linecap="round"/><rect x="206.0" y="2353.0" width="1492.0" height="468.0" fill="none" stroke="#717171" stroke-width="7"/><rect x="307.0" y="2431.0" width="90.0" height="90.0" fill="#a3d9dc" rx="2" /><rect x="322.0" y="2446.0" width="60.0" height="60.0" fill="#97d2d6" /><text transform="translate(424,2505) scale(1,1.19)" x="0" y="0" font-family="Liberation Serif" font-size="48" fill="#5a5a5c" stroke="#5a5a5c" stroke-width="1.3" textLength="274" lengthAdjust="spacing">LAVATORY</text><rect x="974.0" y="2431.0" width="90.0" height="90.0" fill="#f08377" rx="2" /><rect x="989.0" y="2446.0" width="60.0" height="60.0" fill="#ee7367" /><text transform="translate(1100,2505) scale(1,1.19)" x="0" y="0" font-family="Liberation Serif" font-size="48" fill="#5a5a5c" stroke="#5a5a5c" stroke-width="1.3" textLength="515" lengthAdjust="spacing">CO-WORKING SPACE</text><rect x="307.0" y="2546.0" width="90.0" height="90.0" fill="#9c98a6" rx="2" /><rect x="322.0" y="2561.0" width="60.0" height="60.0" fill="#8f8c99" /><text transform="translate(424,2620) scale(1,1.19)" x="0" y="0" font-family="Liberation Serif" font-size="48" fill="#5a5a5c" stroke="#5a5a5c" stroke-width="1.3" textLength="225" lengthAdjust="spacing">KITCHEN</text><rect x="974.0" y="2546.0" width="90.0" height="90.0" fill="#c5b9a2" rx="2" /><rect x="989.0" y="2561.0" width="60.0" height="60.0" fill="#bbad94" /><text transform="translate(1100,2620) scale(1,1.19)" x="0" y="0" font-family="Liberation Serif" font-size="48" fill="#5a5a5c" stroke="#5a5a5c" stroke-width="1.3" textLength="282" lengthAdjust="spacing">RECEPTION</text><rect x="307.0" y="2664.0" width="90.0" height="90.0" fill="#9db0d8" rx="2" /><rect x="322.0" y="2679.0" width="60.0" height="60.0" fill="#8ea3d0" /><text transform="translate(424,2738) scale(1,1.19)" x="0" y="0" font-family="Liberation Serif" font-size="48" fill="#5a5a5c" stroke="#5a5a5c" stroke-width="1.3" textLength="434" lengthAdjust="spacing">WORKING SPACE</text><rect x="974.0" y="2664.0" width="90.0" height="90.0" fill="#7fc563" rx="2" /><rect x="989.0" y="2679.0" width="60.0" height="60.0" fill="#74bf56" /><text transform="translate(1100,2738) scale(1,1.19)" x="0" y="0" font-family="Liberation Serif" font-size="48" fill="#5a5a5c" stroke="#5a5a5c" stroke-width="1.3" textLength="310" lengthAdjust="spacing">GREEN ZONE</text></svg></body></html>
